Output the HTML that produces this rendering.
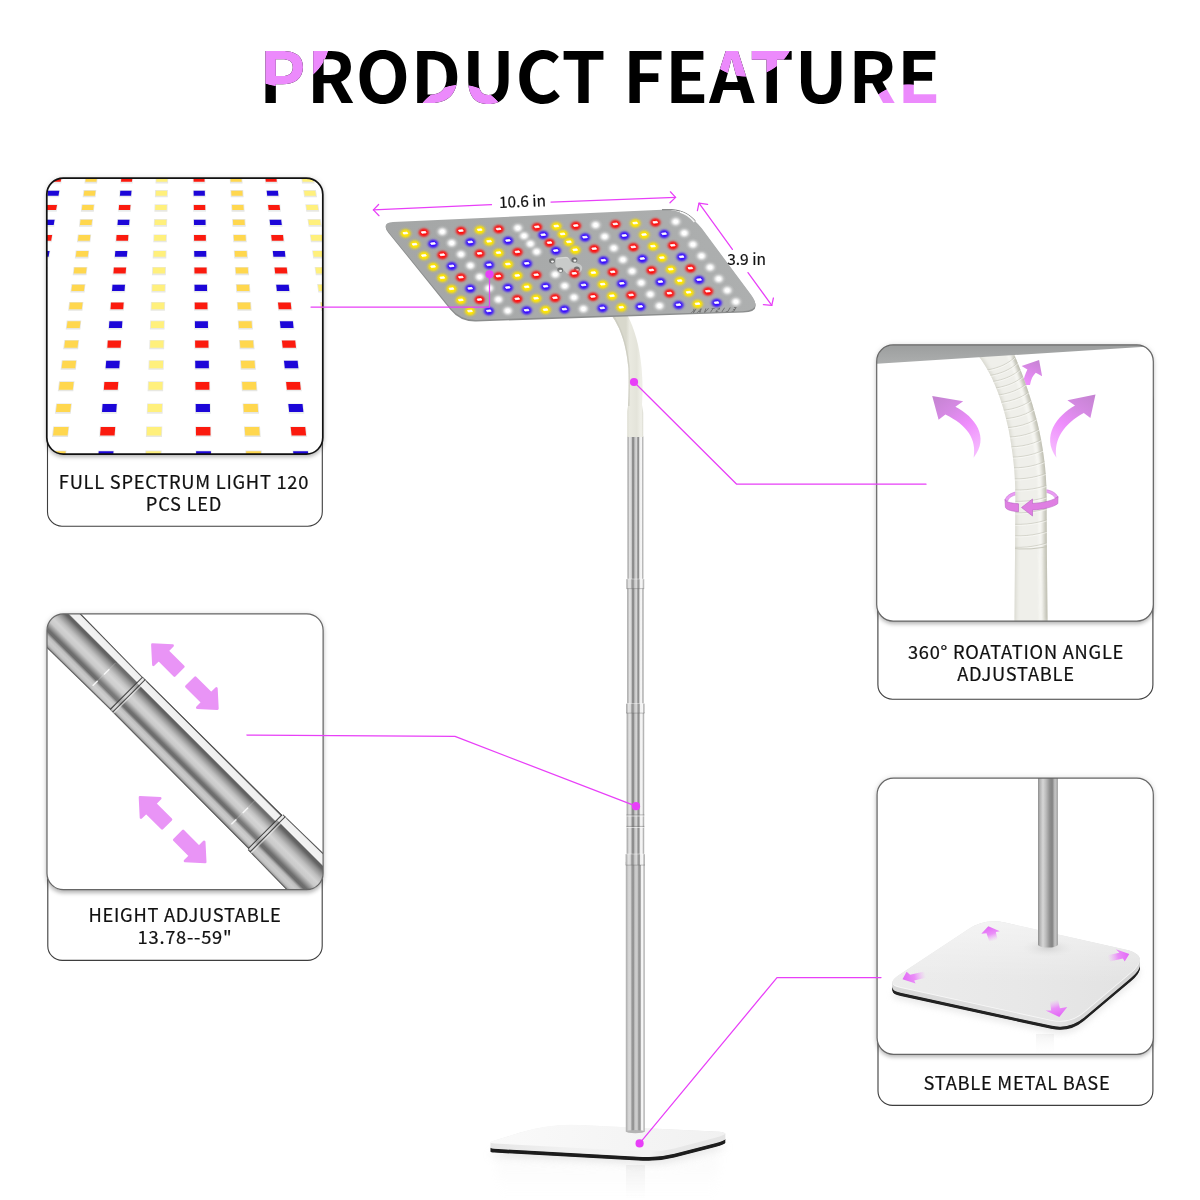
<!DOCTYPE html>
<html lang="en">
<head>
<meta charset="utf-8">
<title>Product Feature</title>
<style>
html,body{margin:0;padding:0;background:#fff;}
body{width:1200px;height:1200px;position:relative;overflow:hidden;font-family:"Noto Sans CJK SC","Noto Sans CJK JP","Noto Sans CJK TC","Noto Sans CJK KR","Liberation Sans",sans-serif;color:#111;}
.abs{position:absolute;}
h1{position:absolute;margin:0;left:259px;top:19.7px;font-weight:700;font-size:70.5px;line-height:104px;letter-spacing:.8px;white-space:nowrap;
  color:transparent;-webkit-background-clip:text;background-clip:text;
  background-color:#000;
  background-image:
   radial-gradient(circle 48.5px at 22.6px 18.2px,#ec8afc 98.5%,transparent 100%),
   radial-gradient(circle 49.8px at 201.8px 114.2px,#ec8afc 98.5%,transparent 100%),
   radial-gradient(circle 50.2px at 487.3px 6.8px,#ec8afc 98.5%,transparent 100%),
   radial-gradient(circle 50.5px at 649.3px 114.5px,#ec8afc 98.5%,transparent 100%);
  background-repeat:no-repeat;}
.pic{position:absolute;border-radius:16.5px;background:#fff;overflow:hidden;box-shadow:0 2.5px 4px rgba(0,0,0,.26), 0 0 6px rgba(0,0,0,.12);}
.pic svg{position:absolute;}
.lbl{position:absolute;will-change:transform;width:300px;text-align:center;font-size:18.3px;line-height:22px;letter-spacing:.75px;color:#111;white-space:nowrap;-webkit-text-stroke:.22px #111;}
svg text{font-family:"Noto Sans CJK SC","Noto Sans CJK JP","Noto Sans CJK TC","Noto Sans CJK KR","Liberation Sans",sans-serif;}
</style>
</head>
<body>
<h1>PRODUCT FEATURE</h1>
<svg class="abs" style="left:0;top:0" width="1200" height="1200" viewBox="0 0 1200 1200">
<rect x="47.5" y="218.1" width="274.8" height="308.1" rx="14.5" fill="#fff" stroke="#3e3e3e" stroke-width="1.1"/>
<rect x="877.9" y="384.9" width="275.0" height="314.3" rx="14.5" fill="#fff" stroke="#3e3e3e" stroke-width="1.1"/>
<rect x="47.8" y="653.8" width="274.4" height="306.6" rx="14.5" fill="#fff" stroke="#3e3e3e" stroke-width="1.1"/>
<rect x="878.0" y="818.2" width="274.9" height="287.2" rx="14.5" fill="#fff" stroke="#3e3e3e" stroke-width="1.1"/>
</svg>
<div class="pic" style="left:46.8px;top:178.1px;width:276.0px;height:276.0px"><svg style="left:0.2px;top:-0.1px" width="277" height="276" viewBox="0 0 277 276">
<rect width="277" height="276" fill="#fff"/>
<path d="M2.7 -1.7h12.6l-1.0 7.1h-12.6z" fill="#e9ecec"/>
<path d="M3.5 -1.1h11.0l-0.8 4.9h-11.0z" fill="#fb1a0e"/>
<path d="M38.2 -1.7h12.6l-0.7 7.1h-12.6z" fill="#e6e6e2"/>
<path d="M39.0 -1.1h11.0l-0.6 4.9h-11.0z" fill="#ffd74e"/>
<path d="M73.6 -1.7h12.6l-0.5 7.1h-12.6z" fill="#e9ecec"/>
<path d="M74.4 -1.1h11.0l-0.4 4.9h-11.0z" fill="#fb1a0e"/>
<path d="M108.7 -1.7h12.6l-0.2 7.1h-12.6z" fill="#e8e8e2"/>
<path d="M109.5 -1.1h11.0l-0.2 4.9h-11.0z" fill="#fff07c"/>
<path d="M145.7 -1.7h12.6l0.1 7.1h-12.6z" fill="#e9ecec"/>
<path d="M146.5 -1.1h11.0l0.1 4.9h-11.0z" fill="#fb1a0e"/>
<path d="M182.6 -1.7h12.6l0.4 7.1h-12.6z" fill="#e6e6e2"/>
<path d="M183.4 -1.1h11.0l0.3 4.9h-11.0z" fill="#ffd74e"/>
<path d="M217.5 -1.7h12.6l0.7 7.1h-12.6z" fill="#e9ecec"/>
<path d="M218.3 -1.1h11.0l0.5 4.9h-11.0z" fill="#fb1a0e"/>
<path d="M254.1 -1.7h12.6l0.9 7.1h-12.6z" fill="#e8e8e2"/>
<path d="M254.9 -1.1h11.0l0.8 4.9h-11.0z" fill="#fff07c"/>
<path d="M0.3 12.1h12.8l-1.1 7.2h-12.8z" fill="#e9ecec"/>
<path d="M1.1 12.7h11.2l-0.8 5.0h-11.2z" fill="#1c06d8"/>
<path d="M36.5 12.1h12.8l-0.8 7.2h-12.8z" fill="#e6e6e2"/>
<path d="M37.3 12.7h11.2l-0.6 5.0h-11.2z" fill="#ffd74e"/>
<path d="M72.5 12.1h12.8l-0.5 7.2h-12.8z" fill="#e9ecec"/>
<path d="M73.3 12.7h11.2l-0.4 5.0h-11.2z" fill="#1c06d8"/>
<path d="M108.1 12.1h12.8l-0.2 7.2h-12.8z" fill="#e8e8e2"/>
<path d="M108.9 12.7h11.2l-0.2 5.0h-11.2z" fill="#fff07c"/>
<path d="M145.8 12.1h12.8l0.1 7.2h-12.8z" fill="#e9ecec"/>
<path d="M146.6 12.7h11.2l0.1 5.0h-11.2z" fill="#1c06d8"/>
<path d="M183.4 12.1h12.8l0.4 7.2h-12.8z" fill="#e6e6e2"/>
<path d="M184.2 12.7h11.2l0.3 5.0h-11.2z" fill="#ffd74e"/>
<path d="M218.9 12.1h12.8l0.7 7.2h-12.8z" fill="#e9ecec"/>
<path d="M219.7 12.7h11.2l0.5 5.0h-11.2z" fill="#1c06d8"/>
<path d="M256.2 12.1h12.8l1.0 7.2h-12.8z" fill="#e8e8e2"/>
<path d="M257.0 12.7h11.2l0.8 5.0h-11.2z" fill="#fff07c"/>
<path d="M-2.2 26.3h13.0l-1.1 7.4h-13.0z" fill="#e9ecec"/>
<path d="M-1.4 26.9h11.4l-0.9 5.2h-11.4z" fill="#fb1a0e"/>
<path d="M34.6 26.3h13.0l-0.8 7.4h-13.0z" fill="#e6e6e2"/>
<path d="M35.4 26.9h11.4l-0.6 5.2h-11.4z" fill="#ffd74e"/>
<path d="M71.3 26.3h13.0l-0.5 7.4h-13.0z" fill="#e9ecec"/>
<path d="M72.1 26.9h11.4l-0.4 5.2h-11.4z" fill="#fb1a0e"/>
<path d="M107.6 26.3h13.0l-0.2 7.4h-13.0z" fill="#e8e8e2"/>
<path d="M108.4 26.9h11.4l-0.2 5.2h-11.4z" fill="#fff07c"/>
<path d="M146.0 26.3h13.0l0.1 7.4h-13.0z" fill="#e9ecec"/>
<path d="M146.8 26.9h11.4l0.1 5.2h-11.4z" fill="#fb1a0e"/>
<path d="M184.2 26.3h13.0l0.4 7.4h-13.0z" fill="#e6e6e2"/>
<path d="M185.0 26.9h11.4l0.3 5.2h-11.4z" fill="#ffd74e"/>
<path d="M220.3 26.3h13.0l0.7 7.4h-13.0z" fill="#e9ecec"/>
<path d="M221.1 26.9h11.4l0.6 5.2h-11.4z" fill="#fb1a0e"/>
<path d="M258.3 26.3h13.0l1.0 7.4h-13.0z" fill="#e8e8e2"/>
<path d="M259.1 26.9h11.4l0.8 5.2h-11.4z" fill="#fff07c"/>
<path d="M-4.8 41.1h13.2l-1.1 7.6h-13.2z" fill="#e9ecec"/>
<path d="M-4.0 41.7h11.6l-0.9 5.4h-11.6z" fill="#1c06d8"/>
<path d="M32.8 41.1h13.2l-0.8 7.6h-13.2z" fill="#e6e6e2"/>
<path d="M33.6 41.7h11.6l-0.7 5.4h-11.6z" fill="#ffd74e"/>
<path d="M70.1 41.1h13.2l-0.5 7.6h-13.2z" fill="#e9ecec"/>
<path d="M70.9 41.7h11.6l-0.4 5.4h-11.6z" fill="#1c06d8"/>
<path d="M107.0 41.1h13.2l-0.2 7.6h-13.2z" fill="#e8e8e2"/>
<path d="M107.8 41.7h11.6l-0.2 5.4h-11.6z" fill="#fff07c"/>
<path d="M146.1 41.1h13.2l0.1 7.6h-13.2z" fill="#e9ecec"/>
<path d="M146.9 41.7h11.6l0.1 5.4h-11.6z" fill="#1c06d8"/>
<path d="M185.1 41.1h13.2l0.4 7.6h-13.2z" fill="#e6e6e2"/>
<path d="M185.9 41.7h11.6l0.3 5.4h-11.6z" fill="#ffd74e"/>
<path d="M221.8 41.1h13.2l0.7 7.6h-13.2z" fill="#e9ecec"/>
<path d="M222.6 41.7h11.6l0.6 5.4h-11.6z" fill="#1c06d8"/>
<path d="M260.5 41.1h13.2l1.1 7.6h-13.2z" fill="#e8e8e2"/>
<path d="M261.3 41.7h11.6l0.8 5.4h-11.6z" fill="#fff07c"/>
<path d="M-7.5 56.5h13.4l-1.2 7.8h-13.4z" fill="#e9ecec"/>
<path d="M-6.7 57.1h11.8l-0.9 5.6h-11.8z" fill="#fb1a0e"/>
<path d="M30.8 56.5h13.4l-0.9 7.8h-13.4z" fill="#e6e6e2"/>
<path d="M31.6 57.1h11.8l-0.7 5.6h-11.8z" fill="#ffd74e"/>
<path d="M68.8 56.5h13.4l-0.5 7.8h-13.4z" fill="#e9ecec"/>
<path d="M69.6 57.1h11.8l-0.4 5.6h-11.8z" fill="#fb1a0e"/>
<path d="M106.5 56.5h13.4l-0.2 7.8h-13.4z" fill="#e8e8e2"/>
<path d="M107.3 57.1h11.8l-0.2 5.6h-11.8z" fill="#fff07c"/>
<path d="M146.2 56.5h13.4l0.1 7.8h-13.4z" fill="#e9ecec"/>
<path d="M147.0 57.1h11.8l0.1 5.6h-11.8z" fill="#fb1a0e"/>
<path d="M185.9 56.5h13.4l0.4 7.8h-13.4z" fill="#e6e6e2"/>
<path d="M186.7 57.1h11.8l0.4 5.6h-11.8z" fill="#ffd74e"/>
<path d="M223.4 56.5h13.4l0.8 7.8h-13.4z" fill="#e9ecec"/>
<path d="M224.2 57.1h11.8l0.6 5.6h-11.8z" fill="#fb1a0e"/>
<path d="M262.8 56.5h13.4l1.1 7.8h-13.4z" fill="#e8e8e2"/>
<path d="M263.6 57.1h11.8l0.9 5.6h-11.8z" fill="#fff07c"/>
<path d="M-10.2 72.4h13.6l-1.2 8.0h-13.6z" fill="#e9ecec"/>
<path d="M-9.4 73.0h12.0l-1.0 5.8h-12.0z" fill="#1c06d8"/>
<path d="M28.7 72.4h13.6l-0.9 8.0h-13.6z" fill="#e6e6e2"/>
<path d="M29.5 73.0h12.0l-0.7 5.8h-12.0z" fill="#ffd74e"/>
<path d="M67.5 72.4h13.6l-0.6 8.0h-13.6z" fill="#e9ecec"/>
<path d="M68.3 73.0h12.0l-0.4 5.8h-12.0z" fill="#1c06d8"/>
<path d="M105.9 72.4h13.6l-0.2 8.0h-13.6z" fill="#e8e8e2"/>
<path d="M106.7 73.0h12.0l-0.2 5.8h-12.0z" fill="#fff07c"/>
<path d="M146.4 72.4h13.6l0.1 8.0h-13.6z" fill="#e9ecec"/>
<path d="M147.2 73.0h12.0l0.1 5.8h-12.0z" fill="#1c06d8"/>
<path d="M186.8 72.4h13.6l0.5 8.0h-13.6z" fill="#e6e6e2"/>
<path d="M187.6 73.0h12.0l0.4 5.8h-12.0z" fill="#ffd74e"/>
<path d="M225.0 72.4h13.6l0.8 8.0h-13.6z" fill="#e9ecec"/>
<path d="M225.8 73.0h12.0l0.6 5.8h-12.0z" fill="#1c06d8"/>
<path d="M265.1 72.4h13.6l1.1 8.0h-13.6z" fill="#e8e8e2"/>
<path d="M265.9 73.0h12.0l0.9 5.8h-12.0z" fill="#fff07c"/>
<path d="M-13.1 88.9h13.8l-1.3 8.3h-13.8z" fill="#e9ecec"/>
<path d="M-12.3 89.5h12.2l-1.0 6.1h-12.2z" fill="#fb1a0e"/>
<path d="M26.6 88.9h13.8l-0.9 8.3h-13.8z" fill="#e6e6e2"/>
<path d="M27.4 89.5h12.2l-0.7 6.1h-12.2z" fill="#ffd74e"/>
<path d="M66.1 88.9h13.8l-0.6 8.3h-13.8z" fill="#e9ecec"/>
<path d="M66.9 89.5h12.2l-0.5 6.1h-12.2z" fill="#fb1a0e"/>
<path d="M105.2 88.9h13.8l-0.2 8.3h-13.8z" fill="#e8e8e2"/>
<path d="M106.0 89.5h12.2l-0.2 6.1h-12.2z" fill="#fff07c"/>
<path d="M146.6 88.9h13.8l0.1 8.3h-13.8z" fill="#e9ecec"/>
<path d="M147.4 89.5h12.2l0.1 6.1h-12.2z" fill="#fb1a0e"/>
<path d="M187.8 88.9h13.8l0.5 8.3h-13.8z" fill="#e6e6e2"/>
<path d="M188.6 89.5h12.2l0.4 6.1h-12.2z" fill="#ffd74e"/>
<path d="M226.7 88.9h13.8l0.8 8.3h-13.8z" fill="#e9ecec"/>
<path d="M227.5 89.5h12.2l0.7 6.1h-12.2z" fill="#fb1a0e"/>
<path d="M267.6 88.9h13.8l1.2 8.3h-13.8z" fill="#e8e8e2"/>
<path d="M268.4 89.5h12.2l0.9 6.1h-12.2z" fill="#fff07c"/>
<path d="M-16.1 106.1h14.1l-1.3 8.5h-14.1z" fill="#e9ecec"/>
<path d="M-15.3 106.7h12.5l-1.1 6.3h-12.5z" fill="#1c06d8"/>
<path d="M24.4 106.1h14.1l-1.0 8.5h-14.1z" fill="#e6e6e2"/>
<path d="M25.2 106.7h12.5l-0.8 6.3h-12.5z" fill="#ffd74e"/>
<path d="M64.7 106.1h14.1l-0.6 8.5h-14.1z" fill="#e9ecec"/>
<path d="M65.5 106.7h12.5l-0.5 6.3h-12.5z" fill="#1c06d8"/>
<path d="M104.6 106.1h14.1l-0.2 8.5h-14.1z" fill="#e8e8e2"/>
<path d="M105.4 106.7h12.5l-0.2 6.3h-12.5z" fill="#fff07c"/>
<path d="M146.7 106.1h14.1l0.1 8.5h-14.1z" fill="#e9ecec"/>
<path d="M147.5 106.7h12.5l0.1 6.3h-12.5z" fill="#1c06d8"/>
<path d="M188.8 106.1h14.1l0.5 8.5h-14.1z" fill="#e6e6e2"/>
<path d="M189.6 106.7h12.5l0.4 6.3h-12.5z" fill="#ffd74e"/>
<path d="M228.4 106.1h14.1l0.9 8.5h-14.1z" fill="#e9ecec"/>
<path d="M229.2 106.7h12.5l0.7 6.3h-12.5z" fill="#1c06d8"/>
<path d="M270.1 106.1h14.1l1.2 8.5h-14.1z" fill="#e8e8e2"/>
<path d="M270.9 106.7h12.5l1.0 6.3h-12.5z" fill="#fff07c"/>
<path d="M-19.2 124.0h14.3l-1.4 8.8h-14.3z" fill="#e9ecec"/>
<path d="M-18.4 124.6h12.7l-1.1 6.6h-12.7z" fill="#fb1a0e"/>
<path d="M22.1 124.0h14.3l-1.0 8.8h-14.3z" fill="#e6e6e2"/>
<path d="M22.9 124.6h12.7l-0.8 6.6h-12.7z" fill="#ffd74e"/>
<path d="M63.2 124.0h14.3l-0.6 8.8h-14.3z" fill="#e9ecec"/>
<path d="M64.0 124.6h12.7l-0.5 6.6h-12.7z" fill="#fb1a0e"/>
<path d="M103.9 124.0h14.3l-0.3 8.8h-14.3z" fill="#e8e8e2"/>
<path d="M104.7 124.6h12.7l-0.2 6.6h-12.7z" fill="#fff07c"/>
<path d="M146.9 124.0h14.3l0.1 8.8h-14.3z" fill="#e9ecec"/>
<path d="M147.7 124.6h12.7l0.1 6.6h-12.7z" fill="#fb1a0e"/>
<path d="M189.8 124.0h14.3l0.5 8.8h-14.3z" fill="#e6e6e2"/>
<path d="M190.6 124.6h12.7l0.4 6.6h-12.7z" fill="#ffd74e"/>
<path d="M230.2 124.0h14.3l0.9 8.8h-14.3z" fill="#e9ecec"/>
<path d="M231.0 124.6h12.7l0.7 6.6h-12.7z" fill="#fb1a0e"/>
<path d="M272.8 124.0h14.3l1.3 8.8h-14.3z" fill="#e8e8e2"/>
<path d="M273.6 124.6h12.7l1.0 6.6h-12.7z" fill="#fff07c"/>
<path d="M-22.4 142.6h14.6l-1.4 9.0h-14.6z" fill="#e9ecec"/>
<path d="M-21.6 143.2h13.0l-1.1 6.8h-13.0z" fill="#1c06d8"/>
<path d="M19.7 142.6h14.6l-1.0 9.0h-14.6z" fill="#e6e6e2"/>
<path d="M20.5 143.2h13.0l-0.8 6.8h-13.0z" fill="#ffd74e"/>
<path d="M61.6 142.6h14.6l-0.6 9.0h-14.6z" fill="#e9ecec"/>
<path d="M62.4 143.2h13.0l-0.5 6.8h-13.0z" fill="#1c06d8"/>
<path d="M103.2 142.6h14.6l-0.3 9.0h-14.6z" fill="#e8e8e2"/>
<path d="M104.0 143.2h13.0l-0.2 6.8h-13.0z" fill="#fff07c"/>
<path d="M147.1 142.6h14.6l0.1 9.0h-14.6z" fill="#e9ecec"/>
<path d="M147.9 143.2h13.0l0.1 6.8h-13.0z" fill="#1c06d8"/>
<path d="M190.8 142.6h14.6l0.5 9.0h-14.6z" fill="#e6e6e2"/>
<path d="M191.6 143.2h13.0l0.4 6.8h-13.0z" fill="#ffd74e"/>
<path d="M232.1 142.6h14.6l0.9 9.0h-14.6z" fill="#e9ecec"/>
<path d="M232.9 143.2h13.0l0.7 6.8h-13.0z" fill="#1c06d8"/>
<path d="M275.6 142.6h14.6l1.3 9.0h-14.6z" fill="#e8e8e2"/>
<path d="M276.4 143.2h13.0l1.1 6.8h-13.0z" fill="#fff07c"/>
<path d="M-25.8 162.0h14.9l-1.5 9.3h-14.9z" fill="#e9ecec"/>
<path d="M-25.0 162.6h13.3l-1.2 7.1h-13.3z" fill="#fb1a0e"/>
<path d="M17.3 162.0h14.9l-1.1 9.3h-14.9z" fill="#e6e6e2"/>
<path d="M18.1 162.6h13.3l-0.9 7.1h-13.3z" fill="#ffd74e"/>
<path d="M60.0 162.0h14.9l-0.7 9.3h-14.9z" fill="#e9ecec"/>
<path d="M60.8 162.6h13.3l-0.5 7.1h-13.3z" fill="#fb1a0e"/>
<path d="M102.5 162.0h14.9l-0.3 9.3h-14.9z" fill="#e8e8e2"/>
<path d="M103.3 162.6h13.3l-0.2 7.1h-13.3z" fill="#fff07c"/>
<path d="M147.3 162.0h14.9l0.1 9.3h-14.9z" fill="#e9ecec"/>
<path d="M148.1 162.6h13.3l0.1 7.1h-13.3z" fill="#fb1a0e"/>
<path d="M192.0 162.0h14.9l0.6 9.3h-14.9z" fill="#e6e6e2"/>
<path d="M192.8 162.6h13.3l0.5 7.1h-13.3z" fill="#ffd74e"/>
<path d="M234.1 162.0h14.9l1.0 9.3h-14.9z" fill="#e9ecec"/>
<path d="M234.9 162.6h13.3l0.8 7.1h-13.3z" fill="#fb1a0e"/>
<path d="M278.4 162.0h14.9l1.4 9.3h-14.9z" fill="#e8e8e2"/>
<path d="M279.2 162.6h13.3l1.1 7.1h-13.3z" fill="#fff07c"/>
<path d="M-29.3 182.2h15.2l-1.6 9.6h-15.2z" fill="#e9ecec"/>
<path d="M-28.5 182.8h13.6l-1.2 7.4h-13.6z" fill="#1c06d8"/>
<path d="M14.7 182.2h15.2l-1.1 9.6h-15.2z" fill="#e6e6e2"/>
<path d="M15.5 182.8h13.6l-0.9 7.4h-13.6z" fill="#ffd74e"/>
<path d="M58.4 182.2h15.2l-0.7 9.6h-15.2z" fill="#e9ecec"/>
<path d="M59.2 182.8h13.6l-0.6 7.4h-13.6z" fill="#1c06d8"/>
<path d="M101.7 182.2h15.2l-0.3 9.6h-15.2z" fill="#e8e8e2"/>
<path d="M102.5 182.8h13.6l-0.2 7.4h-13.6z" fill="#fff07c"/>
<path d="M147.4 182.2h15.2l0.2 9.6h-15.2z" fill="#e9ecec"/>
<path d="M148.2 182.8h13.6l0.1 7.4h-13.6z" fill="#1c06d8"/>
<path d="M193.1 182.2h15.2l0.6 9.6h-15.2z" fill="#e6e6e2"/>
<path d="M193.9 182.8h13.6l0.5 7.4h-13.6z" fill="#ffd74e"/>
<path d="M236.2 182.2h15.2l1.0 9.6h-15.2z" fill="#e9ecec"/>
<path d="M237.0 182.8h13.6l0.8 7.4h-13.6z" fill="#1c06d8"/>
<path d="M281.4 182.2h15.2l1.4 9.6h-15.2z" fill="#e8e8e2"/>
<path d="M282.2 182.8h13.6l1.2 7.4h-13.6z" fill="#fff07c"/>
<path d="M-33.0 203.3h15.5l-1.6 10.0h-15.5z" fill="#e9ecec"/>
<path d="M-32.2 203.9h13.9l-1.3 7.8h-13.9z" fill="#fb1a0e"/>
<path d="M12.0 203.3h15.5l-1.2 10.0h-15.5z" fill="#e6e6e2"/>
<path d="M12.8 203.9h13.9l-0.9 7.8h-13.9z" fill="#ffd74e"/>
<path d="M56.6 203.3h15.5l-0.7 10.0h-15.5z" fill="#e9ecec"/>
<path d="M57.4 203.9h13.9l-0.6 7.8h-13.9z" fill="#fb1a0e"/>
<path d="M100.9 203.3h15.5l-0.3 10.0h-15.5z" fill="#e8e8e2"/>
<path d="M101.7 203.9h13.9l-0.2 7.8h-13.9z" fill="#fff07c"/>
<path d="M147.6 203.3h15.5l0.2 10.0h-15.5z" fill="#e9ecec"/>
<path d="M148.4 203.9h13.9l0.1 7.8h-13.9z" fill="#fb1a0e"/>
<path d="M194.3 203.3h15.5l0.6 10.0h-15.5z" fill="#e6e6e2"/>
<path d="M195.1 203.9h13.9l0.5 7.8h-13.9z" fill="#ffd74e"/>
<path d="M238.3 203.3h15.5l1.1 10.0h-15.5z" fill="#e9ecec"/>
<path d="M239.1 203.9h13.9l0.8 7.8h-13.9z" fill="#fb1a0e"/>
<path d="M284.6 203.3h15.5l1.5 10.0h-15.5z" fill="#e8e8e2"/>
<path d="M285.4 203.9h13.9l1.2 7.8h-13.9z" fill="#fff07c"/>
<path d="M-36.8 225.4h15.8l-1.7 10.3h-15.8z" fill="#e9ecec"/>
<path d="M-36.0 226.0h14.2l-1.4 8.1h-14.2z" fill="#1c06d8"/>
<path d="M9.1 225.4h15.8l-1.2 10.3h-15.8z" fill="#e6e6e2"/>
<path d="M9.9 226.0h14.2l-1.0 8.1h-14.2z" fill="#ffd74e"/>
<path d="M54.8 225.4h15.8l-0.8 10.3h-15.8z" fill="#e9ecec"/>
<path d="M55.6 226.0h14.2l-0.6 8.1h-14.2z" fill="#1c06d8"/>
<path d="M100.1 225.4h15.8l-0.3 10.3h-15.8z" fill="#e8e8e2"/>
<path d="M100.9 226.0h14.2l-0.3 8.1h-14.2z" fill="#fff07c"/>
<path d="M147.9 225.4h15.8l0.2 10.3h-15.8z" fill="#e9ecec"/>
<path d="M148.7 226.0h14.2l0.1 8.1h-14.2z" fill="#1c06d8"/>
<path d="M195.6 225.4h15.8l0.6 10.3h-15.8z" fill="#e6e6e2"/>
<path d="M196.4 226.0h14.2l0.5 8.1h-14.2z" fill="#ffd74e"/>
<path d="M240.5 225.4h15.8l1.1 10.3h-15.8z" fill="#e9ecec"/>
<path d="M241.3 226.0h14.2l0.9 8.1h-14.2z" fill="#1c06d8"/>
<path d="M287.9 225.4h15.8l1.6 10.3h-15.8z" fill="#e8e8e2"/>
<path d="M288.7 226.0h14.2l1.3 8.1h-14.2z" fill="#fff07c"/>
<path d="M-40.8 248.4h16.1l-1.8 10.7h-16.1z" fill="#e9ecec"/>
<path d="M-40.0 249.0h14.5l-1.4 8.5h-14.5z" fill="#fb1a0e"/>
<path d="M6.2 248.4h16.1l-1.3 10.7h-16.1z" fill="#e6e6e2"/>
<path d="M7.0 249.0h14.5l-1.0 8.5h-14.5z" fill="#ffd74e"/>
<path d="M52.9 248.4h16.1l-0.8 10.7h-16.1z" fill="#e9ecec"/>
<path d="M53.7 249.0h14.5l-0.6 8.5h-14.5z" fill="#fb1a0e"/>
<path d="M99.2 248.4h16.1l-0.3 10.7h-16.1z" fill="#e8e8e2"/>
<path d="M100.0 249.0h14.5l-0.3 8.5h-14.5z" fill="#fff07c"/>
<path d="M148.1 248.4h16.1l0.2 10.7h-16.1z" fill="#e9ecec"/>
<path d="M148.9 249.0h14.5l0.1 8.5h-14.5z" fill="#fb1a0e"/>
<path d="M196.9 248.4h16.1l0.7 10.7h-16.1z" fill="#e6e6e2"/>
<path d="M197.7 249.0h14.5l0.5 8.5h-14.5z" fill="#ffd74e"/>
<path d="M242.9 248.4h16.1l1.2 10.7h-16.1z" fill="#e9ecec"/>
<path d="M243.7 249.0h14.5l0.9 8.5h-14.5z" fill="#fb1a0e"/>
<path d="M291.3 248.4h16.1l1.7 10.7h-16.1z" fill="#e8e8e2"/>
<path d="M292.1 249.0h14.5l1.3 8.5h-14.5z" fill="#fff07c"/>
<path d="M-45.0 272.6h16.4l-1.9 11.1h-16.4z" fill="#e9ecec"/>
<path d="M-44.2 273.2h14.8l-1.5 8.9h-14.8z" fill="#1c06d8"/>
<path d="M3.1 272.6h16.4l-1.3 11.1h-16.4z" fill="#e6e6e2"/>
<path d="M3.9 273.2h14.8l-1.1 8.9h-14.8z" fill="#ffd74e"/>
<path d="M50.9 272.6h16.4l-0.8 11.1h-16.4z" fill="#e9ecec"/>
<path d="M51.7 273.2h14.8l-0.7 8.9h-14.8z" fill="#1c06d8"/>
<path d="M98.3 272.6h16.4l-0.3 11.1h-16.4z" fill="#e8e8e2"/>
<path d="M99.1 273.2h14.8l-0.3 8.9h-14.8z" fill="#fff07c"/>
<path d="M148.3 272.6h16.4l0.2 11.1h-16.4z" fill="#e9ecec"/>
<path d="M149.1 273.2h14.8l0.1 8.9h-14.8z" fill="#1c06d8"/>
<path d="M198.3 272.6h16.4l0.7 11.1h-16.4z" fill="#e6e6e2"/>
<path d="M199.1 273.2h14.8l0.6 8.9h-14.8z" fill="#ffd74e"/>
<path d="M245.3 272.6h16.4l1.2 11.1h-16.4z" fill="#e9ecec"/>
<path d="M246.1 273.2h14.8l1.0 8.9h-14.8z" fill="#1c06d8"/>
<path d="M294.9 272.6h16.4l1.7 11.1h-16.4z" fill="#e8e8e2"/>
<path d="M295.7 273.2h14.8l1.4 8.9h-14.8z" fill="#fff07c"/>
<path d="M-49.4 297.9h16.8l-1.9 11.5h-16.8z" fill="#e9ecec"/>
<path d="M-48.6 298.5h15.2l-1.6 9.3h-15.2z" fill="#fb1a0e"/>
<path d="M-0.2 297.9h16.8l-1.4 11.5h-16.8z" fill="#e6e6e2"/>
<path d="M0.6 298.5h15.2l-1.1 9.3h-15.2z" fill="#ffd74e"/>
<path d="M48.8 297.9h16.8l-0.9 11.5h-16.8z" fill="#e9ecec"/>
<path d="M49.6 298.5h15.2l-0.7 9.3h-15.2z" fill="#fb1a0e"/>
<path d="M97.3 297.9h16.8l-0.4 11.5h-16.8z" fill="#e8e8e2"/>
<path d="M98.1 298.5h15.2l-0.3 9.3h-15.2z" fill="#fff07c"/>
<path d="M148.6 297.9h16.8l0.2 11.5h-16.8z" fill="#e9ecec"/>
<path d="M149.4 298.5h15.2l0.2 9.3h-15.2z" fill="#fb1a0e"/>
<path d="M199.7 297.9h16.8l0.7 11.5h-16.8z" fill="#e6e6e2"/>
<path d="M200.5 298.5h15.2l0.6 9.3h-15.2z" fill="#ffd74e"/>
<path d="M247.9 297.9h16.8l1.3 11.5h-16.8z" fill="#e9ecec"/>
<path d="M248.7 298.5h15.2l1.0 9.3h-15.2z" fill="#fb1a0e"/>
<path d="M298.6 297.9h16.8l1.8 11.5h-16.8z" fill="#e8e8e2"/>
<path d="M299.4 298.5h15.2l1.5 9.3h-15.2z" fill="#fff07c"/>
</svg></div>
<div class="pic" style="left:876.7px;top:344.9px;width:276.6px;height:276.2px"><svg style="left:0.3px;top:0.1px" width="277" height="276" viewBox="0 0 277 276">
<defs>
<linearGradient id="c2pan" x1="0" x2="0" y1="0" y2="1"><stop offset="0" stop-color="#9c9e9e"/><stop offset="1" stop-color="#acaeae"/></linearGradient>
<linearGradient id="c2aL" gradientUnits="userSpaceOnUse" x1="58" y1="52" x2="100" y2="112"><stop offset="0" stop-color="#c583d2"/><stop offset=".28" stop-color="#d68ae4"/><stop offset=".55" stop-color="#ee8dfc"/><stop offset="1" stop-color="#f7c0ff"/></linearGradient>
<linearGradient id="c2aR" gradientUnits="userSpaceOnUse" x1="216" y1="50" x2="176" y2="112"><stop offset="0" stop-color="#c583d2"/><stop offset=".28" stop-color="#d68ae4"/><stop offset=".55" stop-color="#ee8dfc"/><stop offset="1" stop-color="#f7c0ff"/></linearGradient>
<linearGradient id="c2aT" gradientUnits="userSpaceOnUse" x1="162" y1="15" x2="150" y2="38"><stop offset="0" stop-color="#c583d2"/><stop offset="1" stop-color="#ee8dfc"/></linearGradient>
<clipPath id="c2clip"><path d="M100 9 C112 24 124 48 131.5 84 C136 108 138.4 128 138.4 152 L138 210 L137.4 277 L170.6 277 L169.9 210 L169.6 152 C169.6 126 166 100 160 76 C154 52 146 30 137 9Z"/></clipPath>
<filter id="c2blur" x="-20%" y="-5%" width="140%" height="110%"><feGaussianBlur stdDeviation="2.2"/></filter>
<filter id="c2blur2" x="-20%" y="-5%" width="140%" height="110%"><feGaussianBlur stdDeviation="1"/></filter>
</defs>
<rect width="277" height="276" fill="#fff"/>
<path d="M162.1 15 L144.6 21 L150.4 24.4 C148.6 28 146.6 33 145.6 40 L153 40 C154 34 156 30.4 158.8 27.8 L165.1 31.2Z" fill="url(#c2aT)"/>
<path d="M128 155.4 C129 150.5 134 148 140 146.6 L170 144.8 C176 146 180 149 181 152.5 L178.4 153.4 C177 150.6 174 148.6 170 147.6 L140 149.6 C135 150.8 131.6 152.6 130.8 156Z" fill="#ea9df4" stroke="#c873d4" stroke-width=".5"/>
<path d="M100 9 C112 24 124 48 131.5 84 C136 108 138.4 128 138.4 152 L138 210 L137.4 277 L170.6 277 L169.9 210 L169.6 152 C169.6 126 166 100 160 76 C154 52 146 30 137 9Z" fill="#efefea"/>
<g clip-path="url(#c2clip)">
<path d="M171.6 277 L170.9 210 L170.6 152 C170.6 126 167 100 161 76 C155 52 147 30 138 9" fill="none" stroke="#b9b9ab" stroke-width="7" filter="url(#c2blur)"/>
<path d="M99 9 C111 24 123 48 130.5 84 C135 108 137.4 128 137.4 152 L137 210 L136.4 277" fill="none" stroke="#cfcfc4" stroke-width="4" filter="url(#c2blur)"/>
<path d="M163.5 277 L163 210 L162.8 152 C162.6 126 159.4 102 153.6 78 C148 56 140 32 131 9" fill="none" stroke="#f8f8f4" stroke-width="3" filter="url(#c2blur2)" opacity=".9"/>
<path d="M100.1 26.6 C116.1 24.4 132.1 21.7 144.1 5.1" fill="none" stroke="#c3c3b7" stroke-width=".75" opacity="0.8"/>
<path d="M100.1 27.7 C116.1 25.5 132.1 22.8 144.1 6.2" fill="none" stroke="#fbfbf8" stroke-width=".75" opacity="0.8"/>
<path d="M102.6 32.0 C118.6 30.0 134.6 27.3 146.6 11.1" fill="none" stroke="#c3c3b7" stroke-width=".75" opacity="0.8"/>
<path d="M102.6 33.1 C118.6 31.1 134.6 28.4 146.6 12.2" fill="none" stroke="#fbfbf8" stroke-width=".75" opacity="0.8"/>
<path d="M105.4 37.9 C121.4 36.1 137.4 33.4 149.4 17.8" fill="none" stroke="#c3c3b7" stroke-width=".75" opacity="0.8"/>
<path d="M105.4 39.0 C121.4 37.2 137.4 34.5 149.4 18.9" fill="none" stroke="#fbfbf8" stroke-width=".75" opacity="0.8"/>
<path d="M108.4 44.3 C124.4 42.6 140.4 39.9 152.4 24.9" fill="none" stroke="#c3c3b7" stroke-width=".75" opacity="0.8"/>
<path d="M108.4 45.4 C124.4 43.7 140.4 41.0 152.4 26.0" fill="none" stroke="#fbfbf8" stroke-width=".75" opacity="0.8"/>
<path d="M111.6 51.1 C127.6 49.7 143.6 47.0 155.6 32.6" fill="none" stroke="#c3c3b7" stroke-width=".75" opacity="0.8"/>
<path d="M111.6 52.2 C127.6 50.8 143.6 48.1 155.6 33.7" fill="none" stroke="#fbfbf8" stroke-width=".75" opacity="0.8"/>
<path d="M114.4 58.4 C130.4 57.2 146.4 54.5 158.4 40.8" fill="none" stroke="#c3c3b7" stroke-width=".75" opacity="0.8"/>
<path d="M114.4 59.5 C130.4 58.3 146.4 55.6 158.4 41.9" fill="none" stroke="#fbfbf8" stroke-width=".75" opacity="0.8"/>
<path d="M116.8 66.2 C132.8 65.2 148.8 62.5 160.8 49.5" fill="none" stroke="#c3c3b7" stroke-width=".75" opacity="0.8"/>
<path d="M116.8 67.3 C132.8 66.3 148.8 63.6 160.8 50.6" fill="none" stroke="#fbfbf8" stroke-width=".75" opacity="0.8"/>
<path d="M119.5 74.4 C135.5 73.7 151.5 71.0 163.5 58.8" fill="none" stroke="#c3c3b7" stroke-width=".75" opacity="0.8"/>
<path d="M119.5 75.5 C135.5 74.8 151.5 72.1 163.5 59.9" fill="none" stroke="#fbfbf8" stroke-width=".75" opacity="0.8"/>
<path d="M122.2 83.1 C138.2 82.7 154.2 80.0 166.2 68.6" fill="none" stroke="#c3c3b7" stroke-width=".75" opacity="0.8"/>
<path d="M122.2 84.2 C138.2 83.8 154.2 81.1 166.2 69.7" fill="none" stroke="#fbfbf8" stroke-width=".75" opacity="0.8"/>
<path d="M125.2 92.3 C141.2 92.2 157.2 89.5 169.2 79.0" fill="none" stroke="#c3c3b7" stroke-width=".75" opacity="0.8"/>
<path d="M125.2 93.4 C141.2 93.3 157.2 90.6 169.2 80.1" fill="none" stroke="#fbfbf8" stroke-width=".75" opacity="0.8"/>
<path d="M127.4 102.0 C143.4 102.2 159.4 99.5 171.4 89.9" fill="none" stroke="#c3c3b7" stroke-width=".75" opacity="0.8"/>
<path d="M127.4 103.1 C143.4 103.3 159.4 100.6 171.4 91.0" fill="none" stroke="#fbfbf8" stroke-width=".75" opacity="0.8"/>
<path d="M128.5 112.2 C144.5 112.6 160.5 109.9 172.5 101.3" fill="none" stroke="#c3c3b7" stroke-width=".75" opacity="0.8"/>
<path d="M128.5 113.3 C144.5 113.7 160.5 111.0 172.5 102.4" fill="none" stroke="#fbfbf8" stroke-width=".75" opacity="0.8"/>
<path d="M129.7 122.8 C145.7 123.6 161.7 120.9 173.7 113.2" fill="none" stroke="#c3c3b7" stroke-width=".75" opacity="0.8"/>
<path d="M129.7 123.9 C145.7 124.7 161.7 122.0 173.7 114.3" fill="none" stroke="#fbfbf8" stroke-width=".75" opacity="0.8"/>
<path d="M130.9 133.7 C146.9 134.8 162.9 132.1 174.9 125.5" fill="none" stroke="#c3c3b7" stroke-width=".75" opacity="0.8"/>
<path d="M130.9 134.8 C146.9 135.9 162.9 133.2 174.9 126.6" fill="none" stroke="#fbfbf8" stroke-width=".75" opacity="0.8"/>
<path d="M132.0 144.6 C148.0 146.1 164.0 143.4 176.0 137.8" fill="none" stroke="#c3c3b7" stroke-width=".75" opacity="0.8"/>
<path d="M132.0 145.7 C148.0 147.2 164.0 144.5 176.0 138.9" fill="none" stroke="#fbfbf8" stroke-width=".75" opacity="0.8"/>
<path d="M132.0 155.9 C148.0 157.5 164.0 154.8 176.0 149.5" fill="none" stroke="#c3c3b7" stroke-width=".75" opacity="0.8"/>
<path d="M132.0 157.0 C148.0 158.6 164.0 155.9 176.0 150.6" fill="none" stroke="#fbfbf8" stroke-width=".75" opacity="0.8"/>
<path d="M132.0 167.4 C148.0 169.0 164.0 166.3 176.0 161.0" fill="none" stroke="#c3c3b7" stroke-width=".75" opacity="0.8"/>
<path d="M132.0 168.5 C148.0 170.1 164.0 167.4 176.0 162.1" fill="none" stroke="#fbfbf8" stroke-width=".75" opacity="0.8"/>
<path d="M131.9 178.9 C147.9 180.5 163.9 177.8 175.9 172.5" fill="none" stroke="#c3c3b7" stroke-width=".75" opacity="0.8"/>
<path d="M131.9 180.0 C147.9 181.6 163.9 178.9 175.9 173.6" fill="none" stroke="#fbfbf8" stroke-width=".75" opacity="0.8"/>
<path d="M131.9 190.4 C147.9 192.0 163.9 189.3 175.9 184.0" fill="none" stroke="#c3c3b7" stroke-width=".75" opacity="0.8"/>
<path d="M131.9 191.5 C147.9 193.1 163.9 190.4 175.9 185.1" fill="none" stroke="#fbfbf8" stroke-width=".75" opacity="0.8"/>
<path d="M131.9 201.9 C147.9 203.5 163.9 200.8 175.9 195.5" fill="none" stroke="#c3c3b7" stroke-width=".75" opacity="0.8"/>
<path d="M131.9 203.0 C147.9 204.6 163.9 201.9 175.9 196.6" fill="none" stroke="#fbfbf8" stroke-width=".75" opacity="0.8"/>
<path d="M130 202.6 Q154 206.6 178 199.6" fill="none" stroke="#c4c4b8" stroke-width=".9"/>
</g>
<path d="M0 0 H277 V1.2 L0 18.8Z" fill="url(#c2pan)"/>
<path d="M55.2 51 L86.2 56.3 L78.4 61.8 C98 72 113 92 96.6 112.7 C100 94 90 80 68.4 69.4 L61.6 74.7Z" fill="url(#c2aL)"/>
<path d="M218.5 49.4 L190.4 55.2 L198 60.6 C180 71 164 91 179.4 112.7 C176.6 94 187 79 206.8 68 L213.4 73.1Z" fill="url(#c2aR)"/>
<path d="M128 154.5 C128.6 156.6 133 158.2 141.5 158.8 L141.5 166.8 C133 166 128.8 164.4 128.4 162Z" fill="#df7fe2" stroke="#b860c4" stroke-width=".6"/>
<path d="M144.5 162.5 L155.5 154 L155.5 158.5 C166 157.8 177 155.6 181 151.4 L180.8 158.6 C177 162 166 164.4 155.5 165 L155.5 171Z" fill="#df7fe2" stroke="#b860c4" stroke-width=".6"/>
</svg></div>
<div class="pic" style="left:47.0px;top:613.8px;width:276.1px;height:275.9px"><svg style="left:0.0px;top:0.2px" width="277" height="276" viewBox="0 0 277 276">
<defs>
<linearGradient id="c3pole" x1="0" x2="0" y1="0" y2="1">
<stop offset="0" stop-color="#454545"/><stop offset=".022" stop-color="#5a5a5a"/><stop offset=".034" stop-color="#e8e8e8"/><stop offset=".06" stop-color="#f0f0f0"/><stop offset=".175" stop-color="#f2f2f2"/><stop offset=".2" stop-color="#606060"/><stop offset=".24" stop-color="#646464"/><stop offset=".31" stop-color="#929292"/><stop offset=".40" stop-color="#bebebe"/><stop offset=".48" stop-color="#d3d3d3"/><stop offset=".57" stop-color="#c9c9c9"/><stop offset=".64" stop-color="#9a9a9a"/><stop offset=".70" stop-color="#6e6e6e"/><stop offset=".745" stop-color="#6c6c6c"/><stop offset=".80" stop-color="#bcbcbc"/><stop offset=".86" stop-color="#cbcbcb"/><stop offset=".92" stop-color="#c3c3c3"/><stop offset=".975" stop-color="#8e8e8e"/><stop offset="1" stop-color="#5c5c5c"/></linearGradient>
</defs>
<rect width="277" height="276" fill="#fff"/>
<g transform="translate(80.85,80.75) rotate(44.95)">
<path d="M-140 -24.6 L-1.5 -22.9 L-1.5 22.9 L-140 24.6Z" fill="url(#c3pole)"/><path d="M-140 -24.200000000000003 L-1.5 -22.5" stroke="#505050" stroke-width="1" fill="none"/><path d="M-140 24.200000000000003 L-1.5 22.5" stroke="#5e5e5e" stroke-width="1" fill="none"/>
<path d="M-1.5 -23.05 L194.5 -23.75 L194.5 23.75 L-1.5 23.05Z" fill="url(#c3pole)"/><path d="M-1.5 -22.650000000000002 L194.5 -23.35" stroke="#505050" stroke-width="1" fill="none"/><path d="M-1.5 22.650000000000002 L194.5 23.35" stroke="#5e5e5e" stroke-width="1" fill="none"/>
<path d="M194.5 -25.0 L310 -26.8 L310 26.8 L194.5 25.0Z" fill="url(#c3pole)"/><path d="M194.5 -24.6 L310 -26.400000000000002" stroke="#505050" stroke-width="1" fill="none"/><path d="M194.5 24.6 L310 26.400000000000002" stroke="#5e5e5e" stroke-width="1" fill="none"/>
<rect x="-31.9" y="-5" width="1.5" height="7.5" fill="#fff" opacity=".8"/>
<rect x="-31.9" y="11.5" width="1.5" height="7" fill="#fff" opacity=".8"/>
<rect x="-31.8" y="-13.899999999999999" width="1.1" height="32.8" fill="#fff" opacity=".22"/>
<rect x="-30.5" y="-21.9" width="28" height="43.8" fill="#fff" opacity=".08"/>
<rect x="-2.6" y="-22.9" width="1.2" height="45.8" fill="#3e3e3e" opacity=".9"/>
<rect x="-1.4" y="-22.9" width="2.4" height="45.8" fill="#e4e4e4" opacity=".5"/>
<rect x="1.0" y="-23.05" width="1.2" height="46.1" fill="#3e3e3e" opacity=".9"/>
<rect x="2.2" y="-23.05" width="1.4" height="46.1" fill="#f4f4f4" opacity=".6"/>
<rect x="164.1" y="-5" width="1.5" height="7.5" fill="#fff" opacity=".8"/>
<rect x="164.1" y="11.5" width="1.5" height="7" fill="#fff" opacity=".8"/>
<rect x="164.2" y="-14.75" width="1.1" height="34.5" fill="#fff" opacity=".22"/>
<rect x="165.5" y="-22.75" width="28" height="45.5" fill="#fff" opacity=".08"/>
<rect x="193.4" y="-23.75" width="1.2" height="47.5" fill="#3e3e3e" opacity=".9"/>
<rect x="194.6" y="-23.75" width="2.4" height="47.5" fill="#e4e4e4" opacity=".5"/>
<rect x="197.0" y="-25.0" width="1.2" height="50.0" fill="#3e3e3e" opacity=".9"/>
<rect x="198.2" y="-25.0" width="1.4" height="50.0" fill="#f4f4f4" opacity=".6"/>
</g>
<path d="M105.4 30.6 L125.6 31.6 L120.5 36.8 L136.4 52.7 L127.5 61.6 L111.6 45.7 L106.4 50.8Z" fill="#e994f6" stroke="#e994f6" stroke-width="2.6" stroke-linejoin="round"/>
<path d="M170.4 94.6 L150.2 93.6 L155.3 88.4 L139.4 72.5 L148.3 63.6 L164.2 79.5 L169.4 74.4Z" fill="#e994f6" stroke="#e994f6" stroke-width="2.6" stroke-linejoin="round"/>
<path d="M93.0 183.4 L113.2 184.4 L108.1 189.6 L124.0 205.5 L115.1 214.4 L99.2 198.5 L94.0 203.6Z" fill="#e994f6" stroke="#e994f6" stroke-width="2.6" stroke-linejoin="round"/>
<path d="M158.2 248.0 L138.0 247.0 L143.1 241.8 L127.2 225.9 L136.1 217.0 L152.0 232.9 L157.2 227.8Z" fill="#e994f6" stroke="#e994f6" stroke-width="2.6" stroke-linejoin="round"/>
</svg></div>
<div class="pic" style="left:877.1px;top:778.2px;width:276.2px;height:276.1px"><svg style="left:-0.1px;top:-0.2px" width="277" height="277" viewBox="0 0 277 277">
<defs>
<linearGradient id="c4pole" gradientUnits="userSpaceOnUse" x1="161.0" x2="180.8" y1="0" y2="0">
<stop offset="0" stop-color="#8c8c8c"/><stop offset=".1" stop-color="#b4b4b4"/><stop offset=".25" stop-color="#d6d6d6"/><stop offset=".4" stop-color="#bcbcbc"/><stop offset=".6" stop-color="#8e8e8e"/><stop offset=".72" stop-color="#828282"/><stop offset=".86" stop-color="#c6c6c6"/><stop offset=".95" stop-color="#b0b0b0"/><stop offset="1" stop-color="#8a8a8a"/></linearGradient>
<linearGradient id="c4top" x1="0" x2="1" y1="0" y2="0"><stop offset="0" stop-color="#ececec"/><stop offset=".5" stop-color="#e8e8e8"/><stop offset="1" stop-color="#e2e2e2"/></linearGradient>
<linearGradient id="c4side" x1="0" x2="1" y1="0" y2="0"><stop offset="0" stop-color="#d8d8d8"/><stop offset=".3" stop-color="#dedede"/><stop offset=".66" stop-color="#e4e4e4"/><stop offset=".74" stop-color="#dadada"/><stop offset="1" stop-color="#d4d4d4"/></linearGradient>
<linearGradient id="c4fade" gradientUnits="userSpaceOnUse" x1="0" x2="0" y1="140" y2="205"><stop offset="0" stop-color="#fff" stop-opacity=".5"/><stop offset="1" stop-color="#fff" stop-opacity="0"/></linearGradient>
<linearGradient id="c4refl" x1="0" x2="0" y1="0" y2="1"><stop offset="0" stop-color="#d4d4d4" stop-opacity=".8"/><stop offset="1" stop-color="#f4f4f4" stop-opacity="0"/></linearGradient>
<radialGradient id="c4sh" cx=".5" cy=".5" r=".5"><stop offset="0" stop-color="#bdbdbd" stop-opacity=".55"/><stop offset="1" stop-color="#e0e0e0" stop-opacity="0"/></radialGradient>
<filter id="c4blur" x="-10%" y="-20%" width="120%" height="140%"><feGaussianBlur stdDeviation="3"/></filter>
<linearGradient id="c4a1" gradientUnits="userSpaceOnUse" x1="112" y1="149" x2="116.6" y2="163"><stop offset="0" stop-color="#e36bf6"/><stop offset=".5" stop-color="#ea8ef8"/><stop offset="1" stop-color="#f0b0fa" stop-opacity="0"/></linearGradient>
<linearGradient id="c4a2" gradientUnits="userSpaceOnUse" x1="251" y1="176.5" x2="231" y2="180.3"><stop offset="0" stop-color="#e36bf6"/><stop offset=".5" stop-color="#ea8ef8"/><stop offset="1" stop-color="#f0b0fa" stop-opacity="0"/></linearGradient>
<linearGradient id="c4a3" gradientUnits="userSpaceOnUse" x1="26.5" y1="200.6" x2="48.5" y2="196.4"><stop offset="0" stop-color="#e36bf6"/><stop offset=".5" stop-color="#ea8ef8"/><stop offset="1" stop-color="#f0b0fa" stop-opacity="0"/></linearGradient>
<linearGradient id="c4a4" gradientUnits="userSpaceOnUse" x1="181.5" y1="237.5" x2="177" y2="222"><stop offset="0" stop-color="#e36bf6"/><stop offset=".5" stop-color="#ea8ef8"/><stop offset="1" stop-color="#f0b0fa" stop-opacity="0"/></linearGradient>
</defs>
<rect width="277" height="277" fill="#fff"/>
<path d="M23.7 209.1Q8.6 205.8 21.5 197.3L91.5 151.0Q108.2 140.0 127.7 144.4L248.3 171.5Q274.1 177.3 253.9 194.3L207.1 233.8Q192.6 246.0 174.0 241.9Z" fill="#d9d9d9" transform="translate(0,13)" filter="url(#c4blur)" opacity=".55"/>
<path d="M23.7 209.1Q8.6 205.8 21.5 197.3L91.5 151.0Q108.2 140.0 127.7 144.4L248.3 171.5Q274.1 177.3 253.9 194.3L207.1 233.8Q192.6 246.0 174.0 241.9Z" fill="#242424" transform="translate(0,8.90)"/>
<path d="M23.7 209.1Q8.6 205.8 21.5 197.3L91.5 151.0Q108.2 140.0 127.7 144.4L248.3 171.5Q274.1 177.3 253.9 194.3L207.1 233.8Q192.6 246.0 174.0 241.9Z" fill="#242424" transform="translate(0,8.45)"/>
<path d="M23.7 209.1Q8.6 205.8 21.5 197.3L91.5 151.0Q108.2 140.0 127.7 144.4L248.3 171.5Q274.1 177.3 253.9 194.3L207.1 233.8Q192.6 246.0 174.0 241.9Z" fill="#242424" transform="translate(0,8.00)"/>
<path d="M23.7 209.1Q8.6 205.8 21.5 197.3L91.5 151.0Q108.2 140.0 127.7 144.4L248.3 171.5Q274.1 177.3 253.9 194.3L207.1 233.8Q192.6 246.0 174.0 241.9Z" fill="#242424" transform="translate(0,7.55)"/>
<path d="M23.7 209.1Q8.6 205.8 21.5 197.3L91.5 151.0Q108.2 140.0 127.7 144.4L248.3 171.5Q274.1 177.3 253.9 194.3L207.1 233.8Q192.6 246.0 174.0 241.9Z" fill="#242424" transform="translate(0,7.10)"/>
<path d="M23.7 209.1Q8.6 205.8 21.5 197.3L91.5 151.0Q108.2 140.0 127.7 144.4L248.3 171.5Q274.1 177.3 253.9 194.3L207.1 233.8Q192.6 246.0 174.0 241.9Z" fill="#242424" transform="translate(0,6.65)"/>
<path d="M23.7 209.1Q8.6 205.8 21.5 197.3L91.5 151.0Q108.2 140.0 127.7 144.4L248.3 171.5Q274.1 177.3 253.9 194.3L207.1 233.8Q192.6 246.0 174.0 241.9Z" fill="#242424" transform="translate(0,6.20)"/>
<path d="M23.7 209.1Q8.6 205.8 21.5 197.3L91.5 151.0Q108.2 140.0 127.7 144.4L248.3 171.5Q274.1 177.3 253.9 194.3L207.1 233.8Q192.6 246.0 174.0 241.9Z" fill="#242424" transform="translate(0,5.75)"/>
<path d="M23.7 209.1Q8.6 205.8 21.5 197.3L91.5 151.0Q108.2 140.0 127.7 144.4L248.3 171.5Q274.1 177.3 253.9 194.3L207.1 233.8Q192.6 246.0 174.0 241.9Z" fill="url(#c4side)" transform="translate(0,5.70)"/>
<path d="M23.7 209.1Q8.6 205.8 21.5 197.3L91.5 151.0Q108.2 140.0 127.7 144.4L248.3 171.5Q274.1 177.3 253.9 194.3L207.1 233.8Q192.6 246.0 174.0 241.9Z" fill="url(#c4side)" transform="translate(0,5.20)"/>
<path d="M23.7 209.1Q8.6 205.8 21.5 197.3L91.5 151.0Q108.2 140.0 127.7 144.4L248.3 171.5Q274.1 177.3 253.9 194.3L207.1 233.8Q192.6 246.0 174.0 241.9Z" fill="url(#c4side)" transform="translate(0,4.70)"/>
<path d="M23.7 209.1Q8.6 205.8 21.5 197.3L91.5 151.0Q108.2 140.0 127.7 144.4L248.3 171.5Q274.1 177.3 253.9 194.3L207.1 233.8Q192.6 246.0 174.0 241.9Z" fill="url(#c4side)" transform="translate(0,4.20)"/>
<path d="M23.7 209.1Q8.6 205.8 21.5 197.3L91.5 151.0Q108.2 140.0 127.7 144.4L248.3 171.5Q274.1 177.3 253.9 194.3L207.1 233.8Q192.6 246.0 174.0 241.9Z" fill="url(#c4side)" transform="translate(0,3.70)"/>
<path d="M23.7 209.1Q8.6 205.8 21.5 197.3L91.5 151.0Q108.2 140.0 127.7 144.4L248.3 171.5Q274.1 177.3 253.9 194.3L207.1 233.8Q192.6 246.0 174.0 241.9Z" fill="url(#c4side)" transform="translate(0,3.20)"/>
<path d="M23.7 209.1Q8.6 205.8 21.5 197.3L91.5 151.0Q108.2 140.0 127.7 144.4L248.3 171.5Q274.1 177.3 253.9 194.3L207.1 233.8Q192.6 246.0 174.0 241.9Z" fill="url(#c4side)" transform="translate(0,2.70)"/>
<path d="M23.7 209.1Q8.6 205.8 21.5 197.3L91.5 151.0Q108.2 140.0 127.7 144.4L248.3 171.5Q274.1 177.3 253.9 194.3L207.1 233.8Q192.6 246.0 174.0 241.9Z" fill="url(#c4side)" transform="translate(0,2.20)"/>
<path d="M23.7 209.1Q8.6 205.8 21.5 197.3L91.5 151.0Q108.2 140.0 127.7 144.4L248.3 171.5Q274.1 177.3 253.9 194.3L207.1 233.8Q192.6 246.0 174.0 241.9Z" fill="url(#c4side)" transform="translate(0,1.70)"/>
<path d="M23.7 209.1Q8.6 205.8 21.5 197.3L91.5 151.0Q108.2 140.0 127.7 144.4L248.3 171.5Q274.1 177.3 253.9 194.3L207.1 233.8Q192.6 246.0 174.0 241.9Z" fill="url(#c4side)" transform="translate(0,1.20)"/>
<path d="M23.7 209.1Q8.6 205.8 21.5 197.3L91.5 151.0Q108.2 140.0 127.7 144.4L248.3 171.5Q274.1 177.3 253.9 194.3L207.1 233.8Q192.6 246.0 174.0 241.9Z" fill="url(#c4side)" transform="translate(0,0.70)"/>
<path d="M23.7 209.1Q8.6 205.8 21.5 197.3L91.5 151.0Q108.2 140.0 127.7 144.4L248.3 171.5Q274.1 177.3 253.9 194.3L207.1 233.8Q192.6 246.0 174.0 241.9Z" fill="url(#c4side)" transform="translate(0,0.20)"/>
<path d="M23.7 209.1Q8.6 205.8 21.5 197.3L91.5 151.0Q108.2 140.0 127.7 144.4L248.3 171.5Q274.1 177.3 253.9 194.3L207.1 233.8Q192.6 246.0 174.0 241.9Z" fill="#f7f7f7" transform="translate(0,0.9)"/>
<path d="M23.7 209.1Q8.6 205.8 21.5 197.3L91.5 151.0Q108.2 140.0 127.7 144.4L248.3 171.5Q274.1 177.3 253.9 194.3L207.1 233.8Q192.6 246.0 174.0 241.9Z" fill="url(#c4top)"/>
<path d="M23.7 209.1Q8.6 205.8 21.5 197.3L91.5 151.0Q108.2 140.0 127.7 144.4L248.3 171.5Q274.1 177.3 253.9 194.3L207.1 233.8Q192.6 246.0 174.0 241.9Z" fill="url(#c4fade)"/>
<rect x="159" y="256" width="18" height="21" fill="url(#c4refl)" opacity=".35"/>
<ellipse cx="171" cy="170" rx="26" ry="9" fill="url(#c4sh)"/>
<path d="M161 0 L161 166.5 C161 170.6 180.8 170.6 180.8 166.5 L180.8 0Z" fill="url(#c4pole)"/>
<path d="M111.3 148.3 L122.9 153.3 L118.8 154.1 L120.8 162.2 L112.4 163.4 L109.5 155.3 L104.3 155.8Z" fill="url(#c4a1)"/>
<path d="M252.3 175.9 L247.7 183.5 L245.9 180.6 L232.8 183.4 L229.4 177.4 L242.4 174.8 L238.9 171.3Z" fill="url(#c4a2)"/>
<path d="M25.5 201.3 L29.6 193.8 L33.1 196.7 L47.2 193.6 L49.6 199.4 L37.2 202.5 L38.6 205.4Z" fill="url(#c4a3)"/>
<path d="M182.3 238.9 L168.6 232.5 L174.2 232.5 L172.8 222.6 L181 221.4 L182.9 230.2 L190.3 229Z" fill="url(#c4a4)"/>
</svg></div>
<div class="lbl" style="left:33.9px;top:469.6px">FULL SPECTRUM LIGHT 120<br>PCS LED</div>
<div class="lbl" style="left:866.2px;top:639.7px">360° ROATATION ANGLE<br>ADJUSTABLE</div>
<div class="lbl" style="left:35.0px;top:902.6px">HEIGHT ADJUSTABLE<br>13.78--59"</div>
<div class="lbl" style="left:867.0px;top:1071.0px">STABLE METAL BASE</div>
<svg id="lamp" class="abs" style="left:0;top:0" width="1200" height="1200" viewBox="0 0 1200 1200">
<defs>
<radialGradient id="gY"><stop offset="0" stop-color="#ffe600"/><stop offset=".33" stop-color="#ffe600"/><stop offset=".48" stop-color="#f6de0c" stop-opacity=".85"/><stop offset=".62" stop-color="#f6de0c" stop-opacity=".46"/><stop offset=".78" stop-color="#d8cc40" stop-opacity=".18"/><stop offset=".9" stop-color="#d8cc40" stop-opacity=".05"/><stop offset="1" stop-color="#d8cc40" stop-opacity="0"/></radialGradient>
<radialGradient id="gR"><stop offset="0" stop-color="#ff1010"/><stop offset=".33" stop-color="#ff1010"/><stop offset=".48" stop-color="#f42020" stop-opacity=".85"/><stop offset=".62" stop-color="#f42020" stop-opacity=".46"/><stop offset=".78" stop-color="#d06060" stop-opacity=".18"/><stop offset=".9" stop-color="#d06060" stop-opacity=".05"/><stop offset="1" stop-color="#d06060" stop-opacity="0"/></radialGradient>
<radialGradient id="gB"><stop offset="0" stop-color="#3a10ff"/><stop offset=".33" stop-color="#3a10ff"/><stop offset=".48" stop-color="#4826f4" stop-opacity=".85"/><stop offset=".62" stop-color="#4826f4" stop-opacity=".46"/><stop offset=".78" stop-color="#7060d8" stop-opacity=".18"/><stop offset=".9" stop-color="#7060d8" stop-opacity=".05"/><stop offset="1" stop-color="#7060d8" stop-opacity="0"/></radialGradient>
<radialGradient id="gW"><stop offset="0" stop-color="#fff"/><stop offset=".24" stop-color="#fff"/><stop offset=".45" stop-color="#fff" stop-opacity=".64"/><stop offset=".68" stop-color="#fff" stop-opacity=".2"/><stop offset=".85" stop-color="#fff" stop-opacity=".06"/><stop offset="1" stop-color="#fff" stop-opacity="0"/></radialGradient>
<filter id="fCore" x="-30%" y="-50%" width="160%" height="200%"><feGaussianBlur stdDeviation=".35"/></filter>
<filter id="fSoft" x="-10%" y="-20%" width="120%" height="140%"><feGaussianBlur stdDeviation="4"/></filter>
<filter id="fLed" x="-2%" y="-5%" width="104%" height="110%"><feGaussianBlur stdDeviation=".65"/></filter>
<linearGradient id="gPole" x1="0" x2="1" y1="0" y2="0">
<stop offset="0" stop-color="#a6a6a6"/><stop offset=".07" stop-color="#b8b8b8"/><stop offset=".13" stop-color="#e0e0e0"/><stop offset=".24" stop-color="#dadada"/><stop offset=".32" stop-color="#8e8e8e"/><stop offset=".39" stop-color="#8c8c8c"/><stop offset=".47" stop-color="#c8c8c8"/><stop offset=".57" stop-color="#d4d4d4"/><stop offset=".65" stop-color="#929292"/><stop offset=".71" stop-color="#8e8e8e"/><stop offset=".77" stop-color="#f0f0f0"/><stop offset=".89" stop-color="#f6f6f6"/><stop offset=".93" stop-color="#bcbcbc"/><stop offset="1" stop-color="#acacac"/></linearGradient>
<linearGradient id="gPoleLow" x1="0" x2="1" y1="0" y2="0">
<stop offset="0" stop-color="#ababab"/><stop offset=".08" stop-color="#c0c0c0"/><stop offset=".16" stop-color="#d8d8d8"/><stop offset=".25" stop-color="#d2d2d2"/><stop offset=".33" stop-color="#969696"/><stop offset=".41" stop-color="#949494"/><stop offset=".48" stop-color="#c8c8c8"/><stop offset=".6" stop-color="#cecece"/><stop offset=".68" stop-color="#989898"/><stop offset=".76" stop-color="#969696"/><stop offset=".82" stop-color="#f2f2f2"/><stop offset=".91" stop-color="#f8f8f8"/><stop offset=".94" stop-color="#bcbcbc"/><stop offset="1" stop-color="#b0b0b0"/></linearGradient>
<linearGradient id="gNeck" gradientUnits="userSpaceOnUse" x1="626" x2="644" y1="0" y2="0"><stop offset="0" stop-color="#d8d8cc"/><stop offset=".2" stop-color="#e9e9e0"/><stop offset=".6" stop-color="#e4e4da"/><stop offset=".85" stop-color="#f0f0e9"/><stop offset="1" stop-color="#d2d2c6"/></linearGradient>
<linearGradient id="gPanel" x1="0" x2="1" y1="0" y2="0"><stop offset="0" stop-color="#a4a6a6"/><stop offset=".5" stop-color="#a9abab"/><stop offset="1" stop-color="#adafaf"/></linearGradient>
<linearGradient id="gRefl" x1="0" x2="0" y1="0" y2="1"><stop offset="0" stop-color="#d8d8d8" stop-opacity=".55"/><stop offset="1" stop-color="#e8e8e8" stop-opacity="0"/></linearGradient>
<linearGradient id="gBaseTop" x1="0" x2="1" y1="0" y2="0"><stop offset="0" stop-color="#fafafa"/><stop offset="1" stop-color="#f1f1f1"/></linearGradient>
<linearGradient id="gBaseSide" x1="0" x2="1" y1="0" y2="0"><stop offset="0" stop-color="#e6e6e6"/><stop offset=".3" stop-color="#f0f0f0"/><stop offset=".68" stop-color="#f4f4f4"/><stop offset=".74" stop-color="#e9e9e9"/><stop offset="1" stop-color="#e4e4e4"/></linearGradient>
</defs>
<path d="M496 1160 L656 1170 L720 1154 L716 1200 L500 1200Z" fill="url(#gRefl)" opacity=".22" filter="url(#fSoft)"/>
<rect x="626" y="1165" width="19" height="35" fill="url(#gRefl)" opacity=".62" filter="url(#fCore)"/>
<path d="M494.6 1143.4Q486.6 1143.0 494.2 1140.6L520.4 1132.5Q549.0 1123.6 579.0 1125.0L714.5 1131.4Q736.0 1132.4 715.2 1137.8L674.3 1148.4Q658.8 1152.4 642.8 1151.5Z" fill="#cfcfcf" transform="translate(0,13)" filter="url(#fSoft)" opacity=".5"/>
<path d="M494.6 1143.4Q486.6 1143.0 494.2 1140.6L520.4 1132.5Q549.0 1123.6 579.0 1125.0L714.5 1131.4Q736.0 1132.4 715.2 1137.8L674.3 1148.4Q658.8 1152.4 642.8 1151.5Z" fill="#1e1e1e" transform="translate(0,9.20)"/>
<path d="M494.6 1143.4Q486.6 1143.0 494.2 1140.6L520.4 1132.5Q549.0 1123.6 579.0 1125.0L714.5 1131.4Q736.0 1132.4 715.2 1137.8L674.3 1148.4Q658.8 1152.4 642.8 1151.5Z" fill="#1e1e1e" transform="translate(0,8.70)"/>
<path d="M494.6 1143.4Q486.6 1143.0 494.2 1140.6L520.4 1132.5Q549.0 1123.6 579.0 1125.0L714.5 1131.4Q736.0 1132.4 715.2 1137.8L674.3 1148.4Q658.8 1152.4 642.8 1151.5Z" fill="#1e1e1e" transform="translate(0,8.20)"/>
<path d="M494.6 1143.4Q486.6 1143.0 494.2 1140.6L520.4 1132.5Q549.0 1123.6 579.0 1125.0L714.5 1131.4Q736.0 1132.4 715.2 1137.8L674.3 1148.4Q658.8 1152.4 642.8 1151.5Z" fill="#1e1e1e" transform="translate(0,7.70)"/>
<path d="M494.6 1143.4Q486.6 1143.0 494.2 1140.6L520.4 1132.5Q549.0 1123.6 579.0 1125.0L714.5 1131.4Q736.0 1132.4 715.2 1137.8L674.3 1148.4Q658.8 1152.4 642.8 1151.5Z" fill="#1e1e1e" transform="translate(0,7.20)"/>
<path d="M494.6 1143.4Q486.6 1143.0 494.2 1140.6L520.4 1132.5Q549.0 1123.6 579.0 1125.0L714.5 1131.4Q736.0 1132.4 715.2 1137.8L674.3 1148.4Q658.8 1152.4 642.8 1151.5Z" fill="#1e1e1e" transform="translate(0,6.70)"/>
<path d="M494.6 1143.4Q486.6 1143.0 494.2 1140.6L520.4 1132.5Q549.0 1123.6 579.0 1125.0L714.5 1131.4Q736.0 1132.4 715.2 1137.8L674.3 1148.4Q658.8 1152.4 642.8 1151.5Z" fill="#1e1e1e" transform="translate(0,6.20)"/>
<path d="M494.6 1143.4Q486.6 1143.0 494.2 1140.6L520.4 1132.5Q549.0 1123.6 579.0 1125.0L714.5 1131.4Q736.0 1132.4 715.2 1137.8L674.3 1148.4Q658.8 1152.4 642.8 1151.5Z" fill="#1e1e1e" transform="translate(0,5.70)"/>
<path d="M494.6 1143.4Q486.6 1143.0 494.2 1140.6L520.4 1132.5Q549.0 1123.6 579.0 1125.0L714.5 1131.4Q736.0 1132.4 715.2 1137.8L674.3 1148.4Q658.8 1152.4 642.8 1151.5Z" fill="url(#gBaseSide)" transform="translate(0,5.40)"/>
<path d="M494.6 1143.4Q486.6 1143.0 494.2 1140.6L520.4 1132.5Q549.0 1123.6 579.0 1125.0L714.5 1131.4Q736.0 1132.4 715.2 1137.8L674.3 1148.4Q658.8 1152.4 642.8 1151.5Z" fill="url(#gBaseSide)" transform="translate(0,4.92)"/>
<path d="M494.6 1143.4Q486.6 1143.0 494.2 1140.6L520.4 1132.5Q549.0 1123.6 579.0 1125.0L714.5 1131.4Q736.0 1132.4 715.2 1137.8L674.3 1148.4Q658.8 1152.4 642.8 1151.5Z" fill="url(#gBaseSide)" transform="translate(0,4.44)"/>
<path d="M494.6 1143.4Q486.6 1143.0 494.2 1140.6L520.4 1132.5Q549.0 1123.6 579.0 1125.0L714.5 1131.4Q736.0 1132.4 715.2 1137.8L674.3 1148.4Q658.8 1152.4 642.8 1151.5Z" fill="url(#gBaseSide)" transform="translate(0,3.96)"/>
<path d="M494.6 1143.4Q486.6 1143.0 494.2 1140.6L520.4 1132.5Q549.0 1123.6 579.0 1125.0L714.5 1131.4Q736.0 1132.4 715.2 1137.8L674.3 1148.4Q658.8 1152.4 642.8 1151.5Z" fill="url(#gBaseSide)" transform="translate(0,3.48)"/>
<path d="M494.6 1143.4Q486.6 1143.0 494.2 1140.6L520.4 1132.5Q549.0 1123.6 579.0 1125.0L714.5 1131.4Q736.0 1132.4 715.2 1137.8L674.3 1148.4Q658.8 1152.4 642.8 1151.5Z" fill="url(#gBaseSide)" transform="translate(0,3.00)"/>
<path d="M494.6 1143.4Q486.6 1143.0 494.2 1140.6L520.4 1132.5Q549.0 1123.6 579.0 1125.0L714.5 1131.4Q736.0 1132.4 715.2 1137.8L674.3 1148.4Q658.8 1152.4 642.8 1151.5Z" fill="url(#gBaseSide)" transform="translate(0,2.52)"/>
<path d="M494.6 1143.4Q486.6 1143.0 494.2 1140.6L520.4 1132.5Q549.0 1123.6 579.0 1125.0L714.5 1131.4Q736.0 1132.4 715.2 1137.8L674.3 1148.4Q658.8 1152.4 642.8 1151.5Z" fill="url(#gBaseSide)" transform="translate(0,2.04)"/>
<path d="M494.6 1143.4Q486.6 1143.0 494.2 1140.6L520.4 1132.5Q549.0 1123.6 579.0 1125.0L714.5 1131.4Q736.0 1132.4 715.2 1137.8L674.3 1148.4Q658.8 1152.4 642.8 1151.5Z" fill="url(#gBaseSide)" transform="translate(0,1.56)"/>
<path d="M494.6 1143.4Q486.6 1143.0 494.2 1140.6L520.4 1132.5Q549.0 1123.6 579.0 1125.0L714.5 1131.4Q736.0 1132.4 715.2 1137.8L674.3 1148.4Q658.8 1152.4 642.8 1151.5Z" fill="url(#gBaseSide)" transform="translate(0,1.08)"/>
<path d="M494.6 1143.4Q486.6 1143.0 494.2 1140.6L520.4 1132.5Q549.0 1123.6 579.0 1125.0L714.5 1131.4Q736.0 1132.4 715.2 1137.8L674.3 1148.4Q658.8 1152.4 642.8 1151.5Z" fill="url(#gBaseSide)" transform="translate(0,0.60)"/>
<path d="M494.6 1143.4Q486.6 1143.0 494.2 1140.6L520.4 1132.5Q549.0 1123.6 579.0 1125.0L714.5 1131.4Q736.0 1132.4 715.2 1137.8L674.3 1148.4Q658.8 1152.4 642.8 1151.5Z" fill="url(#gBaseSide)" transform="translate(0,0.12)"/>
<path d="M494.6 1143.4Q486.6 1143.0 494.2 1140.6L520.4 1132.5Q549.0 1123.6 579.0 1125.0L714.5 1131.4Q736.0 1132.4 715.2 1137.8L674.3 1148.4Q658.8 1152.4 642.8 1151.5Z" fill="url(#gBaseTop)"/>
<rect x="625.8" y="862" width="19.0" height="269.5999999999999" fill="url(#gPoleLow)"/>
<ellipse cx="635.3" cy="1131.6" rx="9.5" ry="1.6" fill="#b4b4b4"/>
<rect x="626.6" y="712" width="17.600000000000023" height="150" fill="url(#gPole)"/>
<rect x="627.1" y="586" width="16.600000000000023" height="126" fill="url(#gPole)"/>
<rect x="627.4" y="436.5" width="16.0" height="149.5" fill="url(#gPole)"/>
<rect x="626.3" y="579" width="17.90000000000009" height="9.5" fill="url(#gPole)"/><rect x="626.3" y="579" width="17.90000000000009" height="9.5" fill="#fff" opacity=".07"/><rect x="626.3" y="578.5" width="17.90000000000009" height="1" fill="#fff" opacity=".4"/><rect x="626.3" y="588.1" width="17.90000000000009" height="1" fill="#666" opacity=".38"/>
<rect x="626.0" y="703.5" width="18.600000000000023" height="9.5" fill="url(#gPole)"/><rect x="626.0" y="703.5" width="18.600000000000023" height="9.5" fill="#fff" opacity=".07"/><rect x="626.0" y="703.0" width="18.600000000000023" height="1" fill="#fff" opacity=".4"/><rect x="626.0" y="712.6" width="18.600000000000023" height="1" fill="#666" opacity=".38"/>
<rect x="625.6" y="854" width="19.399999999999977" height="11" fill="url(#gPole)"/><rect x="625.6" y="854" width="19.399999999999977" height="11" fill="#fff" opacity=".07"/><rect x="625.6" y="853.5" width="19.399999999999977" height="1" fill="#fff" opacity=".4"/><rect x="625.6" y="864.6" width="19.399999999999977" height="1" fill="#666" opacity=".38"/>
<rect x="626.4" y="814.4" width="18" height="1.1" fill="#666" opacity=".4"/><rect x="626.4" y="815.5" width="18" height="1" fill="#fff" opacity=".55"/>
<rect x="626.4" y="825.9" width="18" height="1.1" fill="#666" opacity=".4"/><rect x="626.4" y="827.0" width="18" height="1" fill="#fff" opacity=".55"/>
<path d="M611.2 315 C618 324 626 340 628.4 368 C629 385 628.4 400 628 406 C627.4 409 627.2 411 627.2 413 L627.2 437 L643.2 437 L643.2 413 C643.2 411 642.4 408 642 405 C642.4 395 642.6 380 641.6 368 C639.6 345 634 328 627.4 315Z" fill="url(#gNeck)"/>
<path d="M611.2 315 C618 324 626 340 628.4 368 C629 385 628.4 400 628 406 L629.6 406 C630 390 630 376 629.6 366 C627 340 620 326 614 315Z" fill="#c9c9bd" opacity=".7"/>
<path d="M388.5 232.9Q381.0 223.6 393.0 223.0L662.0 210.5Q687.0 209.3 701.9 229.4L751.2 295.8Q763.1 311.9 743.1 312.6L476.2 321.5Q460.2 322.0 450.2 309.5Z" fill="#8b8d8d"/>
<path d="M388.6 231.9Q381.0 222.6 393.0 222.0L662.0 209.7Q687.0 208.5 701.9 228.6L750.9 294.5Q762.8 310.6 742.8 311.2L476.6 319.9Q460.6 320.4 450.5 308.0Z" fill="url(#gPanel)"/>
<path d="M662 209.7 L672 209.6 C682 210.4 689 214 695.6 221" fill="none" stroke="#5d5f5f" stroke-width="1" opacity=".8"/>
<path d="M680 212 C686 213.6 690 216.6 694.4 222" fill="none" stroke="#fff" stroke-width="1.3" opacity=".9"/>
<g filter="url(#fCore)">
<path d="M555.6 259.6 Q555.4 257.8 557.4 257.6 L566 256.8 Q568.4 256.8 569.4 258.8 L570.8 261.4 L579.4 264.2 Q582.4 265.4 582.2 268.4 Q581.6 272 577.6 274 Q574 275 568.6 274 Q566.4 273.4 565 271.4 L562.4 268.4 L557.4 267.4 Q555.4 266.8 555.4 264.8Z" fill="#c9cbca"/>
<path d="M556.4 259.4 Q556.4 258.4 557.6 258.3 L566 257.5 Q567.6 257.5 568.4 258.8" fill="none" stroke="#dcdedd" stroke-width=".9"/>
<ellipse cx="552" cy="260.8" rx="3" ry="2.6" fill="#6f7171"/><ellipse cx="552.5" cy="261.6" rx="1.5" ry="1.1" fill="#f2f2f2"/>
<ellipse cx="574.4" cy="259.9" rx="3" ry="2.6" fill="#6f7171"/><ellipse cx="574.9" cy="260.7" rx="1.5" ry="1.1" fill="#f2f2f2"/>
<ellipse cx="560.1" cy="270.1" rx="3" ry="2.6" fill="#6f7171"/><ellipse cx="560.6" cy="270.90000000000003" rx="1.5" ry="1.1" fill="#f2f2f2"/>
<ellipse cx="576.8" cy="269.2" rx="3" ry="2.6" fill="#6f7171"/><ellipse cx="577.3" cy="270.0" rx="1.5" ry="1.1" fill="#f2f2f2"/>
</g>
<g filter="url(#fLed)"><ellipse cx="405.5" cy="233.4" rx="8.4" ry="7.0" fill="url(#gY)"/>
<path d="M403.0 232.6l4.0 -0.45l0.8 1.5l-4.1 0.45z" fill="#fff" stroke="#fff" stroke-width=".8" stroke-linejoin="round"/>
<ellipse cx="414.7" cy="244.5" rx="8.4" ry="7.0" fill="url(#gY)"/>
<path d="M412.2 243.7l4.0 -0.45l0.8 1.5l-4.1 0.45z" fill="#fff" stroke="#fff" stroke-width=".8" stroke-linejoin="round"/>
<ellipse cx="424.0" cy="255.7" rx="8.4" ry="7.0" fill="url(#gY)"/>
<path d="M421.5 254.9l4.0 -0.45l0.8 1.5l-4.1 0.45z" fill="#fff" stroke="#fff" stroke-width=".8" stroke-linejoin="round"/>
<ellipse cx="433.2" cy="266.8" rx="8.4" ry="7.0" fill="url(#gY)"/>
<path d="M430.7 266.0l4.0 -0.45l0.8 1.5l-4.1 0.45z" fill="#fff" stroke="#fff" stroke-width=".8" stroke-linejoin="round"/>
<ellipse cx="442.4" cy="277.9" rx="8.4" ry="7.0" fill="url(#gY)"/>
<path d="M439.9 277.1l4.0 -0.45l0.8 1.5l-4.1 0.45z" fill="#fff" stroke="#fff" stroke-width=".8" stroke-linejoin="round"/>
<ellipse cx="451.6" cy="289.0" rx="8.4" ry="7.0" fill="url(#gY)"/>
<path d="M449.1 288.2l4.0 -0.45l0.8 1.5l-4.1 0.45z" fill="#fff" stroke="#fff" stroke-width=".8" stroke-linejoin="round"/>
<ellipse cx="460.9" cy="300.2" rx="8.4" ry="7.0" fill="url(#gY)"/>
<path d="M458.4 299.4l4.0 -0.45l0.8 1.5l-4.1 0.45z" fill="#fff" stroke="#fff" stroke-width=".8" stroke-linejoin="round"/>
<ellipse cx="470.1" cy="311.3" rx="8.4" ry="7.0" fill="url(#gY)"/>
<path d="M467.6 310.5l4.0 -0.45l0.8 1.5l-4.1 0.45z" fill="#fff" stroke="#fff" stroke-width=".8" stroke-linejoin="round"/>
<ellipse cx="423.8" cy="232.6" rx="8.4" ry="7.0" fill="url(#gR)"/>
<path d="M421.3 231.8l4.0 -0.45l0.8 1.5l-4.1 0.45z" fill="#fff" stroke="#fff" stroke-width=".8" stroke-linejoin="round"/>
<ellipse cx="433.1" cy="243.8" rx="8.4" ry="7.0" fill="url(#gB)"/>
<path d="M430.6 243.0l4.0 -0.45l0.8 1.5l-4.1 0.45z" fill="#fff" stroke="#fff" stroke-width=".8" stroke-linejoin="round"/>
<ellipse cx="442.4" cy="255.0" rx="8.4" ry="7.0" fill="url(#gR)"/>
<path d="M439.9 254.2l4.0 -0.45l0.8 1.5l-4.1 0.45z" fill="#fff" stroke="#fff" stroke-width=".8" stroke-linejoin="round"/>
<ellipse cx="451.7" cy="266.2" rx="8.4" ry="7.0" fill="url(#gB)"/>
<path d="M449.2 265.4l4.0 -0.45l0.8 1.5l-4.1 0.45z" fill="#fff" stroke="#fff" stroke-width=".8" stroke-linejoin="round"/>
<ellipse cx="461.0" cy="277.4" rx="8.4" ry="7.0" fill="url(#gR)"/>
<path d="M458.5 276.6l4.0 -0.45l0.8 1.5l-4.1 0.45z" fill="#fff" stroke="#fff" stroke-width=".8" stroke-linejoin="round"/>
<ellipse cx="470.3" cy="288.6" rx="8.4" ry="7.0" fill="url(#gB)"/>
<path d="M467.8 287.8l4.0 -0.45l0.8 1.5l-4.1 0.45z" fill="#fff" stroke="#fff" stroke-width=".8" stroke-linejoin="round"/>
<ellipse cx="479.6" cy="299.8" rx="8.4" ry="7.0" fill="url(#gR)"/>
<path d="M477.1 299.0l4.0 -0.45l0.8 1.5l-4.1 0.45z" fill="#fff" stroke="#fff" stroke-width=".8" stroke-linejoin="round"/>
<ellipse cx="488.9" cy="311.1" rx="8.4" ry="7.0" fill="url(#gB)"/>
<path d="M486.4 310.3l4.0 -0.45l0.8 1.5l-4.1 0.45z" fill="#fff" stroke="#fff" stroke-width=".8" stroke-linejoin="round"/>
<ellipse cx="442.3" cy="231.7" rx="7.6" ry="6.6" fill="url(#gW)"/>
<ellipse cx="451.7" cy="243.0" rx="7.6" ry="6.6" fill="url(#gW)"/>
<ellipse cx="461.0" cy="254.3" rx="7.6" ry="6.6" fill="url(#gW)"/>
<ellipse cx="470.4" cy="265.6" rx="7.6" ry="6.6" fill="url(#gW)"/>
<ellipse cx="479.7" cy="276.9" rx="7.6" ry="6.6" fill="url(#gW)"/>
<ellipse cx="489.1" cy="288.2" rx="7.6" ry="6.6" fill="url(#gW)"/>
<ellipse cx="498.4" cy="299.5" rx="7.6" ry="6.6" fill="url(#gW)"/>
<ellipse cx="507.8" cy="310.8" rx="7.6" ry="6.6" fill="url(#gW)"/>
<ellipse cx="461.0" cy="230.9" rx="8.4" ry="7.0" fill="url(#gR)"/>
<path d="M458.5 230.1l4.0 -0.45l0.8 1.5l-4.1 0.45z" fill="#fff" stroke="#fff" stroke-width=".8" stroke-linejoin="round"/>
<ellipse cx="470.4" cy="242.2" rx="8.4" ry="7.0" fill="url(#gB)"/>
<path d="M467.9 241.4l4.0 -0.45l0.8 1.5l-4.1 0.45z" fill="#fff" stroke="#fff" stroke-width=".8" stroke-linejoin="round"/>
<ellipse cx="479.7" cy="253.6" rx="8.4" ry="7.0" fill="url(#gR)"/>
<path d="M477.2 252.8l4.0 -0.45l0.8 1.5l-4.1 0.45z" fill="#fff" stroke="#fff" stroke-width=".8" stroke-linejoin="round"/>
<ellipse cx="489.1" cy="265.0" rx="8.4" ry="7.0" fill="url(#gB)"/>
<path d="M486.6 264.2l4.0 -0.45l0.8 1.5l-4.1 0.45z" fill="#fff" stroke="#fff" stroke-width=".8" stroke-linejoin="round"/>
<ellipse cx="498.5" cy="276.3" rx="8.4" ry="7.0" fill="url(#gR)"/>
<path d="M496.0 275.5l4.0 -0.45l0.8 1.5l-4.1 0.45z" fill="#fff" stroke="#fff" stroke-width=".8" stroke-linejoin="round"/>
<ellipse cx="507.9" cy="287.7" rx="8.4" ry="7.0" fill="url(#gB)"/>
<path d="M505.4 286.9l4.0 -0.45l0.8 1.5l-4.1 0.45z" fill="#fff" stroke="#fff" stroke-width=".8" stroke-linejoin="round"/>
<ellipse cx="517.3" cy="299.0" rx="8.4" ry="7.0" fill="url(#gR)"/>
<path d="M514.8 298.2l4.0 -0.45l0.8 1.5l-4.1 0.45z" fill="#fff" stroke="#fff" stroke-width=".8" stroke-linejoin="round"/>
<ellipse cx="526.7" cy="310.4" rx="8.4" ry="7.0" fill="url(#gB)"/>
<path d="M524.2 309.6l4.0 -0.45l0.8 1.5l-4.1 0.45z" fill="#fff" stroke="#fff" stroke-width=".8" stroke-linejoin="round"/>
<ellipse cx="479.8" cy="230.0" rx="8.4" ry="7.0" fill="url(#gY)"/>
<path d="M477.3 229.2l4.0 -0.45l0.8 1.5l-4.1 0.45z" fill="#fff" stroke="#fff" stroke-width=".8" stroke-linejoin="round"/>
<ellipse cx="489.2" cy="241.5" rx="8.4" ry="7.0" fill="url(#gY)"/>
<path d="M486.7 240.7l4.0 -0.45l0.8 1.5l-4.1 0.45z" fill="#fff" stroke="#fff" stroke-width=".8" stroke-linejoin="round"/>
<ellipse cx="498.6" cy="252.9" rx="8.4" ry="7.0" fill="url(#gY)"/>
<path d="M496.1 252.1l4.0 -0.45l0.8 1.5l-4.1 0.45z" fill="#fff" stroke="#fff" stroke-width=".8" stroke-linejoin="round"/>
<ellipse cx="508.0" cy="264.3" rx="8.4" ry="7.0" fill="url(#gY)"/>
<path d="M505.5 263.5l4.0 -0.45l0.8 1.5l-4.1 0.45z" fill="#fff" stroke="#fff" stroke-width=".8" stroke-linejoin="round"/>
<ellipse cx="517.4" cy="275.7" rx="8.4" ry="7.0" fill="url(#gY)"/>
<path d="M514.9 274.9l4.0 -0.45l0.8 1.5l-4.1 0.45z" fill="#fff" stroke="#fff" stroke-width=".8" stroke-linejoin="round"/>
<ellipse cx="526.8" cy="287.1" rx="8.4" ry="7.0" fill="url(#gY)"/>
<path d="M524.3 286.3l4.0 -0.45l0.8 1.5l-4.1 0.45z" fill="#fff" stroke="#fff" stroke-width=".8" stroke-linejoin="round"/>
<ellipse cx="536.2" cy="298.5" rx="8.4" ry="7.0" fill="url(#gY)"/>
<path d="M533.7 297.7l4.0 -0.45l0.8 1.5l-4.1 0.45z" fill="#fff" stroke="#fff" stroke-width=".8" stroke-linejoin="round"/>
<ellipse cx="545.6" cy="309.9" rx="8.4" ry="7.0" fill="url(#gY)"/>
<path d="M543.1 309.1l4.0 -0.45l0.8 1.5l-4.1 0.45z" fill="#fff" stroke="#fff" stroke-width=".8" stroke-linejoin="round"/>
<ellipse cx="498.7" cy="229.2" rx="8.4" ry="7.0" fill="url(#gR)"/>
<path d="M496.2 228.4l4.0 -0.45l0.8 1.5l-4.1 0.45z" fill="#fff" stroke="#fff" stroke-width=".8" stroke-linejoin="round"/>
<ellipse cx="508.1" cy="240.7" rx="8.4" ry="7.0" fill="url(#gB)"/>
<path d="M505.6 239.9l4.0 -0.45l0.8 1.5l-4.1 0.45z" fill="#fff" stroke="#fff" stroke-width=".8" stroke-linejoin="round"/>
<ellipse cx="517.5" cy="252.1" rx="8.4" ry="7.0" fill="url(#gR)"/>
<path d="M515.0 251.3l4.0 -0.45l0.8 1.5l-4.1 0.45z" fill="#fff" stroke="#fff" stroke-width=".8" stroke-linejoin="round"/>
<ellipse cx="526.9" cy="263.6" rx="8.4" ry="7.0" fill="url(#gB)"/>
<path d="M524.4 262.8l4.0 -0.45l0.8 1.5l-4.1 0.45z" fill="#fff" stroke="#fff" stroke-width=".8" stroke-linejoin="round"/>
<ellipse cx="536.3" cy="275.0" rx="8.4" ry="7.0" fill="url(#gR)"/>
<path d="M533.8 274.2l4.0 -0.45l0.8 1.5l-4.1 0.45z" fill="#fff" stroke="#fff" stroke-width=".8" stroke-linejoin="round"/>
<ellipse cx="545.7" cy="286.5" rx="8.4" ry="7.0" fill="url(#gB)"/>
<path d="M543.2 285.7l4.0 -0.45l0.8 1.5l-4.1 0.45z" fill="#fff" stroke="#fff" stroke-width=".8" stroke-linejoin="round"/>
<ellipse cx="555.1" cy="298.0" rx="8.4" ry="7.0" fill="url(#gR)"/>
<path d="M552.6 297.2l4.0 -0.45l0.8 1.5l-4.1 0.45z" fill="#fff" stroke="#fff" stroke-width=".8" stroke-linejoin="round"/>
<ellipse cx="564.5" cy="309.4" rx="8.4" ry="7.0" fill="url(#gB)"/>
<path d="M562.0 308.6l4.0 -0.45l0.8 1.5l-4.1 0.45z" fill="#fff" stroke="#fff" stroke-width=".8" stroke-linejoin="round"/>
<ellipse cx="517.8" cy="228.0" rx="7.6" ry="6.6" fill="url(#gW)"/>
<ellipse cx="524.1" cy="235.9" rx="7.6" ry="6.6" fill="url(#gW)"/>
<ellipse cx="530.4" cy="243.8" rx="7.6" ry="6.6" fill="url(#gW)"/>
<ellipse cx="536.7" cy="251.7" rx="7.6" ry="6.6" fill="url(#gW)"/>
<ellipse cx="555.3" cy="274.4" rx="7.6" ry="6.6" fill="url(#gW)"/>
<ellipse cx="564.7" cy="285.9" rx="7.6" ry="6.6" fill="url(#gW)"/>
<ellipse cx="574.0" cy="297.4" rx="7.6" ry="6.6" fill="url(#gW)"/>
<ellipse cx="583.4" cy="308.9" rx="7.6" ry="6.6" fill="url(#gW)"/>
<ellipse cx="537.0" cy="227.1" rx="8.4" ry="7.0" fill="url(#gR)"/>
<path d="M534.5 226.3l4.0 -0.45l0.8 1.5l-4.1 0.45z" fill="#fff" stroke="#fff" stroke-width=".8" stroke-linejoin="round"/>
<ellipse cx="543.3" cy="235.0" rx="8.4" ry="7.0" fill="url(#gB)"/>
<path d="M540.8 234.2l4.0 -0.45l0.8 1.5l-4.1 0.45z" fill="#fff" stroke="#fff" stroke-width=".8" stroke-linejoin="round"/>
<ellipse cx="549.6" cy="242.9" rx="8.4" ry="7.0" fill="url(#gR)"/>
<path d="M547.1 242.1l4.0 -0.45l0.8 1.5l-4.1 0.45z" fill="#fff" stroke="#fff" stroke-width=".8" stroke-linejoin="round"/>
<ellipse cx="555.9" cy="250.8" rx="8.4" ry="7.0" fill="url(#gB)"/>
<path d="M553.4 250.0l4.0 -0.45l0.8 1.5l-4.1 0.45z" fill="#fff" stroke="#fff" stroke-width=".8" stroke-linejoin="round"/>
<ellipse cx="574.4" cy="273.6" rx="8.4" ry="7.0" fill="url(#gR)"/>
<path d="M571.9 272.8l4.0 -0.45l0.8 1.5l-4.1 0.45z" fill="#fff" stroke="#fff" stroke-width=".8" stroke-linejoin="round"/>
<ellipse cx="583.7" cy="285.2" rx="8.4" ry="7.0" fill="url(#gB)"/>
<path d="M581.2 284.4l4.0 -0.45l0.8 1.5l-4.1 0.45z" fill="#fff" stroke="#fff" stroke-width=".8" stroke-linejoin="round"/>
<ellipse cx="593.1" cy="296.7" rx="8.4" ry="7.0" fill="url(#gR)"/>
<path d="M590.6 295.9l4.0 -0.45l0.8 1.5l-4.1 0.45z" fill="#fff" stroke="#fff" stroke-width=".8" stroke-linejoin="round"/>
<ellipse cx="602.4" cy="308.2" rx="8.4" ry="7.0" fill="url(#gB)"/>
<path d="M599.9 307.4l4.0 -0.45l0.8 1.5l-4.1 0.45z" fill="#fff" stroke="#fff" stroke-width=".8" stroke-linejoin="round"/>
<ellipse cx="556.4" cy="226.3" rx="8.4" ry="7.0" fill="url(#gY)"/>
<path d="M553.9 225.5l4.0 -0.45l0.8 1.5l-4.1 0.45z" fill="#fff" stroke="#fff" stroke-width=".8" stroke-linejoin="round"/>
<ellipse cx="562.7" cy="234.2" rx="8.4" ry="7.0" fill="url(#gY)"/>
<path d="M560.2 233.4l4.0 -0.45l0.8 1.5l-4.1 0.45z" fill="#fff" stroke="#fff" stroke-width=".8" stroke-linejoin="round"/>
<ellipse cx="569.0" cy="242.1" rx="8.4" ry="7.0" fill="url(#gY)"/>
<path d="M566.5 241.3l4.0 -0.45l0.8 1.5l-4.1 0.45z" fill="#fff" stroke="#fff" stroke-width=".8" stroke-linejoin="round"/>
<ellipse cx="575.3" cy="250.0" rx="8.4" ry="7.0" fill="url(#gY)"/>
<path d="M572.8 249.2l4.0 -0.45l0.8 1.5l-4.1 0.45z" fill="#fff" stroke="#fff" stroke-width=".8" stroke-linejoin="round"/>
<ellipse cx="593.5" cy="272.9" rx="8.4" ry="7.0" fill="url(#gY)"/>
<path d="M591.0 272.1l4.0 -0.45l0.8 1.5l-4.1 0.45z" fill="#fff" stroke="#fff" stroke-width=".8" stroke-linejoin="round"/>
<ellipse cx="602.8" cy="284.4" rx="8.4" ry="7.0" fill="url(#gY)"/>
<path d="M600.3 283.6l4.0 -0.45l0.8 1.5l-4.1 0.45z" fill="#fff" stroke="#fff" stroke-width=".8" stroke-linejoin="round"/>
<ellipse cx="612.1" cy="296.0" rx="8.4" ry="7.0" fill="url(#gY)"/>
<path d="M609.6 295.2l4.0 -0.45l0.8 1.5l-4.1 0.45z" fill="#fff" stroke="#fff" stroke-width=".8" stroke-linejoin="round"/>
<ellipse cx="621.4" cy="307.5" rx="8.4" ry="7.0" fill="url(#gY)"/>
<path d="M618.9 306.7l4.0 -0.45l0.8 1.5l-4.1 0.45z" fill="#fff" stroke="#fff" stroke-width=".8" stroke-linejoin="round"/>
<ellipse cx="575.9" cy="225.8" rx="8.4" ry="7.0" fill="url(#gR)"/>
<path d="M573.4 225.0l4.0 -0.45l0.8 1.5l-4.1 0.45z" fill="#fff" stroke="#fff" stroke-width=".8" stroke-linejoin="round"/>
<ellipse cx="585.1" cy="237.4" rx="8.4" ry="7.0" fill="url(#gB)"/>
<path d="M582.6 236.6l4.0 -0.45l0.8 1.5l-4.1 0.45z" fill="#fff" stroke="#fff" stroke-width=".8" stroke-linejoin="round"/>
<ellipse cx="594.3" cy="248.9" rx="8.4" ry="7.0" fill="url(#gR)"/>
<path d="M591.8 248.1l4.0 -0.45l0.8 1.5l-4.1 0.45z" fill="#fff" stroke="#fff" stroke-width=".8" stroke-linejoin="round"/>
<ellipse cx="603.5" cy="260.5" rx="8.4" ry="7.0" fill="url(#gB)"/>
<path d="M601.0 259.7l4.0 -0.45l0.8 1.5l-4.1 0.45z" fill="#fff" stroke="#fff" stroke-width=".8" stroke-linejoin="round"/>
<ellipse cx="612.8" cy="272.1" rx="8.4" ry="7.0" fill="url(#gR)"/>
<path d="M610.3 271.3l4.0 -0.45l0.8 1.5l-4.1 0.45z" fill="#fff" stroke="#fff" stroke-width=".8" stroke-linejoin="round"/>
<ellipse cx="622.0" cy="283.6" rx="8.4" ry="7.0" fill="url(#gB)"/>
<path d="M619.5 282.8l4.0 -0.45l0.8 1.5l-4.1 0.45z" fill="#fff" stroke="#fff" stroke-width=".8" stroke-linejoin="round"/>
<ellipse cx="631.2" cy="295.2" rx="8.4" ry="7.0" fill="url(#gR)"/>
<path d="M628.7 294.4l4.0 -0.45l0.8 1.5l-4.1 0.45z" fill="#fff" stroke="#fff" stroke-width=".8" stroke-linejoin="round"/>
<ellipse cx="640.4" cy="306.7" rx="8.4" ry="7.0" fill="url(#gB)"/>
<path d="M637.9 305.9l4.0 -0.45l0.8 1.5l-4.1 0.45z" fill="#fff" stroke="#fff" stroke-width=".8" stroke-linejoin="round"/>
<ellipse cx="595.6" cy="225.0" rx="7.6" ry="6.6" fill="url(#gW)"/>
<ellipse cx="604.7" cy="236.6" rx="7.6" ry="6.6" fill="url(#gW)"/>
<ellipse cx="613.8" cy="248.1" rx="7.6" ry="6.6" fill="url(#gW)"/>
<ellipse cx="622.9" cy="259.7" rx="7.6" ry="6.6" fill="url(#gW)"/>
<ellipse cx="632.1" cy="271.2" rx="7.6" ry="6.6" fill="url(#gW)"/>
<ellipse cx="641.2" cy="282.8" rx="7.6" ry="6.6" fill="url(#gW)"/>
<ellipse cx="650.3" cy="294.3" rx="7.6" ry="6.6" fill="url(#gW)"/>
<ellipse cx="659.5" cy="305.9" rx="7.6" ry="6.6" fill="url(#gW)"/>
<ellipse cx="615.4" cy="224.2" rx="8.4" ry="7.0" fill="url(#gR)"/>
<path d="M612.9 223.4l4.0 -0.45l0.8 1.5l-4.1 0.45z" fill="#fff" stroke="#fff" stroke-width=".8" stroke-linejoin="round"/>
<ellipse cx="624.4" cy="235.7" rx="8.4" ry="7.0" fill="url(#gB)"/>
<path d="M621.9 234.9l4.0 -0.45l0.8 1.5l-4.1 0.45z" fill="#fff" stroke="#fff" stroke-width=".8" stroke-linejoin="round"/>
<ellipse cx="633.4" cy="247.2" rx="8.4" ry="7.0" fill="url(#gR)"/>
<path d="M630.9 246.4l4.0 -0.45l0.8 1.5l-4.1 0.45z" fill="#fff" stroke="#fff" stroke-width=".8" stroke-linejoin="round"/>
<ellipse cx="642.4" cy="258.8" rx="8.4" ry="7.0" fill="url(#gB)"/>
<path d="M639.9 258.0l4.0 -0.45l0.8 1.5l-4.1 0.45z" fill="#fff" stroke="#fff" stroke-width=".8" stroke-linejoin="round"/>
<ellipse cx="651.5" cy="270.3" rx="8.4" ry="7.0" fill="url(#gR)"/>
<path d="M649.0 269.5l4.0 -0.45l0.8 1.5l-4.1 0.45z" fill="#fff" stroke="#fff" stroke-width=".8" stroke-linejoin="round"/>
<ellipse cx="660.5" cy="281.9" rx="8.4" ry="7.0" fill="url(#gB)"/>
<path d="M658.0 281.1l4.0 -0.45l0.8 1.5l-4.1 0.45z" fill="#fff" stroke="#fff" stroke-width=".8" stroke-linejoin="round"/>
<ellipse cx="669.5" cy="293.4" rx="8.4" ry="7.0" fill="url(#gR)"/>
<path d="M667.0 292.6l4.0 -0.45l0.8 1.5l-4.1 0.45z" fill="#fff" stroke="#fff" stroke-width=".8" stroke-linejoin="round"/>
<ellipse cx="678.5" cy="305.0" rx="8.4" ry="7.0" fill="url(#gB)"/>
<path d="M676.0 304.2l4.0 -0.45l0.8 1.5l-4.1 0.45z" fill="#fff" stroke="#fff" stroke-width=".8" stroke-linejoin="round"/>
<ellipse cx="635.3" cy="223.3" rx="8.4" ry="7.0" fill="url(#gY)"/>
<path d="M632.8 222.5l4.0 -0.45l0.8 1.5l-4.1 0.45z" fill="#fff" stroke="#fff" stroke-width=".8" stroke-linejoin="round"/>
<ellipse cx="644.2" cy="234.8" rx="8.4" ry="7.0" fill="url(#gY)"/>
<path d="M641.7 234.0l4.0 -0.45l0.8 1.5l-4.1 0.45z" fill="#fff" stroke="#fff" stroke-width=".8" stroke-linejoin="round"/>
<ellipse cx="653.1" cy="246.4" rx="8.4" ry="7.0" fill="url(#gY)"/>
<path d="M650.6 245.6l4.0 -0.45l0.8 1.5l-4.1 0.45z" fill="#fff" stroke="#fff" stroke-width=".8" stroke-linejoin="round"/>
<ellipse cx="662.0" cy="257.9" rx="8.4" ry="7.0" fill="url(#gY)"/>
<path d="M659.5 257.1l4.0 -0.45l0.8 1.5l-4.1 0.45z" fill="#fff" stroke="#fff" stroke-width=".8" stroke-linejoin="round"/>
<ellipse cx="670.9" cy="269.4" rx="8.4" ry="7.0" fill="url(#gY)"/>
<path d="M668.4 268.6l4.0 -0.45l0.8 1.5l-4.1 0.45z" fill="#fff" stroke="#fff" stroke-width=".8" stroke-linejoin="round"/>
<ellipse cx="679.8" cy="280.9" rx="8.4" ry="7.0" fill="url(#gY)"/>
<path d="M677.3 280.1l4.0 -0.45l0.8 1.5l-4.1 0.45z" fill="#fff" stroke="#fff" stroke-width=".8" stroke-linejoin="round"/>
<ellipse cx="688.7" cy="292.5" rx="8.4" ry="7.0" fill="url(#gY)"/>
<path d="M686.2 291.7l4.0 -0.45l0.8 1.5l-4.1 0.45z" fill="#fff" stroke="#fff" stroke-width=".8" stroke-linejoin="round"/>
<ellipse cx="697.6" cy="304.0" rx="8.4" ry="7.0" fill="url(#gY)"/>
<path d="M695.1 303.2l4.0 -0.45l0.8 1.5l-4.1 0.45z" fill="#fff" stroke="#fff" stroke-width=".8" stroke-linejoin="round"/>
<ellipse cx="655.4" cy="222.5" rx="8.4" ry="7.0" fill="url(#gR)"/>
<path d="M652.9 221.7l4.0 -0.45l0.8 1.5l-4.1 0.45z" fill="#fff" stroke="#fff" stroke-width=".8" stroke-linejoin="round"/>
<ellipse cx="664.2" cy="234.0" rx="8.4" ry="7.0" fill="url(#gB)"/>
<path d="M661.7 233.2l4.0 -0.45l0.8 1.5l-4.1 0.45z" fill="#fff" stroke="#fff" stroke-width=".8" stroke-linejoin="round"/>
<ellipse cx="672.9" cy="245.5" rx="8.4" ry="7.0" fill="url(#gR)"/>
<path d="M670.4 244.7l4.0 -0.45l0.8 1.5l-4.1 0.45z" fill="#fff" stroke="#fff" stroke-width=".8" stroke-linejoin="round"/>
<ellipse cx="681.7" cy="257.0" rx="8.4" ry="7.0" fill="url(#gB)"/>
<path d="M679.2 256.2l4.0 -0.45l0.8 1.5l-4.1 0.45z" fill="#fff" stroke="#fff" stroke-width=".8" stroke-linejoin="round"/>
<ellipse cx="690.5" cy="268.4" rx="8.4" ry="7.0" fill="url(#gR)"/>
<path d="M688.0 267.6l4.0 -0.45l0.8 1.5l-4.1 0.45z" fill="#fff" stroke="#fff" stroke-width=".8" stroke-linejoin="round"/>
<ellipse cx="699.2" cy="279.9" rx="8.4" ry="7.0" fill="url(#gB)"/>
<path d="M696.7 279.1l4.0 -0.45l0.8 1.5l-4.1 0.45z" fill="#fff" stroke="#fff" stroke-width=".8" stroke-linejoin="round"/>
<ellipse cx="708.0" cy="291.4" rx="8.4" ry="7.0" fill="url(#gR)"/>
<path d="M705.5 290.6l4.0 -0.45l0.8 1.5l-4.1 0.45z" fill="#fff" stroke="#fff" stroke-width=".8" stroke-linejoin="round"/>
<ellipse cx="716.7" cy="302.9" rx="8.4" ry="7.0" fill="url(#gB)"/>
<path d="M714.2 302.1l4.0 -0.45l0.8 1.5l-4.1 0.45z" fill="#fff" stroke="#fff" stroke-width=".8" stroke-linejoin="round"/>
<ellipse cx="675.7" cy="221.6" rx="7.6" ry="6.6" fill="url(#gW)"/>
<ellipse cx="684.3" cy="233.1" rx="7.6" ry="6.6" fill="url(#gW)"/>
<ellipse cx="692.9" cy="244.5" rx="7.6" ry="6.6" fill="url(#gW)"/>
<ellipse cx="701.5" cy="256.0" rx="7.6" ry="6.6" fill="url(#gW)"/>
<ellipse cx="710.1" cy="267.4" rx="7.6" ry="6.6" fill="url(#gW)"/>
<ellipse cx="718.7" cy="278.9" rx="7.6" ry="6.6" fill="url(#gW)"/>
<ellipse cx="727.3" cy="290.4" rx="7.6" ry="6.6" fill="url(#gW)"/>
<ellipse cx="735.9" cy="301.8" rx="7.6" ry="6.6" fill="url(#gW)"/></g>
<text x="0" y="0" transform="translate(734.6,311.5) rotate(-2) scale(-1,1) skewX(35)" font-family="'Liberation Sans',sans-serif" font-weight="700" font-size="5.6" letter-spacing="2.6" fill="#555" opacity=".8">ELISTVAK</text>
<rect x="46.8" y="178.1" width="276.0" height="276.0" rx="16.5" fill="none" stroke="#111" stroke-width="1.7"/>
<rect x="876.7" y="344.9" width="276.6" height="276.2" rx="16.5" fill="none" stroke="#666" stroke-width="1.2"/>
<rect x="47.0" y="613.8" width="276.1" height="275.9" rx="16.5" fill="none" stroke="#666" stroke-width="1.2"/>
<rect x="877.1" y="778.2" width="276.2" height="276.1" rx="16.5" fill="none" stroke="#666" stroke-width="1.2"/>
<g fill="none" stroke="#e83ff8" stroke-width="1.25" stroke-linecap="round" stroke-linejoin="round">
<path d="M373.4 209.9 L491.5 204.7 M551 202.1 L675.6 197.4"/>
<path d="M378.6 204.5 L373.4 209.9 L379 215.7"/>
<path d="M670.4 191.8 L675.6 197.4 L670 202.8"/>
<path d="M699 203.2 L732.4 249.4 M748 272.6 L771.8 305.4"/>
<path d="M697.4 210.6 L699 203.2 L707.6 204.4"/>
<path d="M763.4 304.6 L771.8 305.4 L773.4 298"/>
<path d="M311 307 L489.5 307 L489.5 274.5"/>
<path d="M634 382 L736.7 484.2 L926 484.2"/>
<path d="M247 735 L455 736.4 L636 806.2"/>
<path d="M639.6 1143.4 L777 977.6 L881 977.6"/>
</g>
<circle cx="489.5" cy="274.3" r="4.1" fill="#e83ff8"/>
<circle cx="634" cy="382" r="4.1" fill="#e83ff8"/>
<circle cx="636" cy="806.2" r="4.1" fill="#e83ff8"/>
<circle cx="639.6" cy="1143.4" r="4.1" fill="#e83ff8"/>
<text x="499.0" y="207.0" font-size="15.4" fill="#111" stroke="#111" stroke-width=".2" transform="rotate(-2.4 522 202)">10.6 in</text>
<text x="727.2" y="265.0" font-size="15.5" fill="#111" stroke="#111" stroke-width=".2">3.9 in</text>
</svg>
</body>
</html>
